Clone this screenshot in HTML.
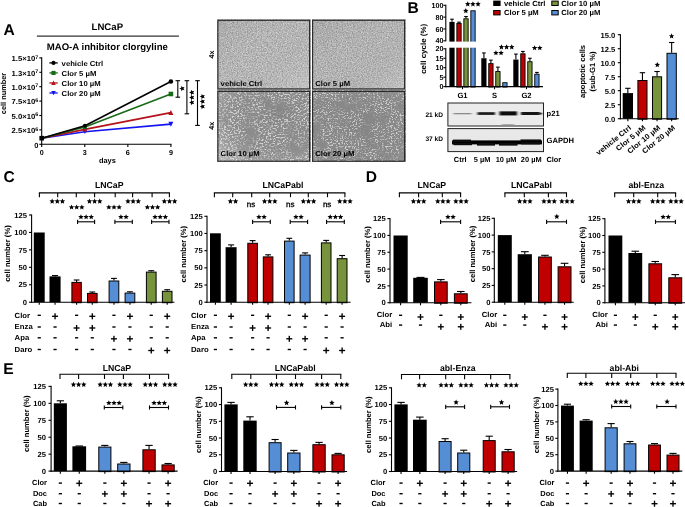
<!DOCTYPE html>
<html><head><meta charset="utf-8"><title>Figure</title>
<style>html,body{margin:0;padding:0;background:#fff;}body{width:685px;height:507px;overflow:hidden;font-family:"Liberation Sans",sans-serif;}svg{display:block;will-change:transform;}</style></head>
<body>
<svg width="685" height="507" viewBox="0 0 685 507" font-family="Liberation Sans, sans-serif" text-rendering="geometricPrecision">
<defs>
<filter id="nz1" x="0" y="0" width="100%" height="100%" color-interpolation-filters="sRGB"><feTurbulence type="fractalNoise" baseFrequency="0.8" numOctaves="2" seed="3"/><feColorMatrix type="matrix" values="0.42 0 0 0 0.50  0.42 0 0 0 0.50  0.42 0 0 0 0.50  0 0 0 0 1"/></filter>
<filter id="nz2" x="0" y="0" width="100%" height="100%" color-interpolation-filters="sRGB"><feTurbulence type="fractalNoise" baseFrequency="0.8" numOctaves="2" seed="8"/><feColorMatrix type="matrix" values="0.4 0 0 0 0.50  0.4 0 0 0 0.50  0.4 0 0 0 0.50  0 0 0 0 1"/></filter>
<filter id="nz3" x="0" y="0" width="100%" height="100%" color-interpolation-filters="sRGB"><feTurbulence type="fractalNoise" baseFrequency="0.53 0.67" numOctaves="2" seed="5" result="n"/><feColorMatrix in="n" type="matrix" values="0 0 0 0 0.83  0 0 0 0 0.83  0 0 0 0 0.83  6 0 0 0 -2.95" result="sp0"/><feGaussianBlur in="sp0" stdDeviation="0.3" result="sp"/><feTurbulence type="fractalNoise" baseFrequency="0.07" numOctaves="2" seed="2" result="lo"/><feColorMatrix in="lo" type="matrix" values="0 0 0 0 1  0 0 0 0 1  0 0 0 0 1  0 3.2 0 0 -0.75" result="lom"/><feComposite in="sp" in2="lom" operator="in" result="sp2"/><feFlood flood-color="#8b8b8b" result="bg"/><feComposite in="sp2" in2="bg" operator="over"/></filter>
<filter id="nz4" x="0" y="0" width="100%" height="100%" color-interpolation-filters="sRGB"><feTurbulence type="fractalNoise" baseFrequency="0.57 0.71" numOctaves="2" seed="11" result="n"/><feColorMatrix in="n" type="matrix" values="0 0 0 0 0.82  0 0 0 0 0.82  0 0 0 0 0.82  6 0 0 0 -3.1" result="sp0"/><feGaussianBlur in="sp0" stdDeviation="0.3" result="sp"/><feTurbulence type="fractalNoise" baseFrequency="0.08" numOctaves="2" seed="9" result="lo"/><feColorMatrix in="lo" type="matrix" values="0 0 0 0 1  0 0 0 0 1  0 0 0 0 1  0 3.2 0 0 -0.8" result="lom"/><feComposite in="sp" in2="lom" operator="in" result="sp2"/><feFlood flood-color="#888888" result="bg"/><feComposite in="sp2" in2="bg" operator="over"/></filter>
<linearGradient id="g1" x1="0" y1="0" x2="1" y2="1"><stop offset="0" stop-color="#000" stop-opacity="0.06"/><stop offset="0.5" stop-color="#888" stop-opacity="0"/><stop offset="1" stop-color="#fff" stop-opacity="0.22"/></linearGradient>
<linearGradient id="g2" x1="0" y1="0" x2="1" y2="1"><stop offset="0" stop-color="#000" stop-opacity="0.05"/><stop offset="0.55" stop-color="#888" stop-opacity="0"/><stop offset="1" stop-color="#fff" stop-opacity="0.25"/></linearGradient>
<radialGradient id="g3" cx="0.66" cy="0.36" r="0.8"><stop offset="0" stop-color="#000" stop-opacity="0.05"/><stop offset="0.5" stop-color="#888" stop-opacity="0"/><stop offset="1" stop-color="#fff" stop-opacity="0.3"/></radialGradient>
<radialGradient id="g4" cx="0.5" cy="0.5" r="0.75"><stop offset="0" stop-color="#000" stop-opacity="0.03"/><stop offset="0.6" stop-color="#888" stop-opacity="0"/><stop offset="1" stop-color="#fff" stop-opacity="0.1"/></radialGradient>
<filter id="bl1" x="-20%" y="-100%" width="140%" height="300%"><feGaussianBlur stdDeviation="0.9 0.55"/></filter>
<filter id="bl2" x="-20%" y="-100%" width="140%" height="300%"><feGaussianBlur stdDeviation="0.7 0.5"/></filter>
</defs>
<rect x="0.00" y="0.00" width="685.00" height="507.00" fill="#fff"/>
<text transform="translate(3.60 34.60)" font-size="15.6" font-weight="bold" text-anchor="start" fill="#000">A</text>
<text transform="translate(107.30 30.00)" font-size="9.6" font-weight="bold" text-anchor="middle" fill="#000">LNCaP</text>
<line x1="36.90" y1="36.10" x2="178.90" y2="36.10" stroke="#000" stroke-width="1.0" stroke-linecap="butt"/>
<text transform="translate(107.30 50.00)" font-size="9.6" font-weight="bold" text-anchor="middle" fill="#000">MAO-A inhibitor clorgyline</text>
<polyline points="41.7,138.2 84.9,131.8 170.9,124.1" fill="none" stroke="#1414f0" stroke-width="1.6" stroke-linejoin="round"/>
<polyline points="41.7,138.2 84.9,129.4 170.9,112.6" fill="none" stroke="#b5121b" stroke-width="1.6" stroke-linejoin="round"/>
<polyline points="41.7,138.2 84.9,127.0 170.9,94.0" fill="none" stroke="#176b17" stroke-width="1.6" stroke-linejoin="round"/>
<polyline points="41.7,138.2 84.9,125.8 170.9,81.5" fill="none" stroke="#000" stroke-width="1.6" stroke-linejoin="round"/>
<polygon points="84.90,134.10 87.10,129.80 82.70,129.80" fill="#1414f0"/>
<polygon points="170.90,126.70 173.40,121.80 168.40,121.80" fill="#1414f0"/>
<polygon points="84.90,127.10 87.10,131.40 82.70,131.40" fill="#b5121b"/>
<polygon points="170.90,110.00 173.40,114.90 168.40,114.90" fill="#b5121b"/>
<rect x="82.90" y="125.00" width="4.00" height="4.00" fill="#176b17"/>
<rect x="168.60" y="91.70" width="4.60" height="4.60" fill="#176b17"/>
<circle cx="84.90" cy="125.80" r="2.00" fill="#000"/>
<circle cx="170.90" cy="81.50" r="2.30" fill="#000"/>
<rect x="39.40" y="135.90" width="4.60" height="4.60" fill="#000"/>
<line x1="41.70" y1="57.30" x2="41.70" y2="144.85" stroke="#000" stroke-width="1.1" stroke-linecap="butt"/>
<line x1="41.15" y1="144.30" x2="171.50" y2="144.30" stroke="#000" stroke-width="1.1" stroke-linecap="butt"/>
<line x1="39.30" y1="144.30" x2="41.70" y2="144.30" stroke="#000" stroke-width="1.1" stroke-linecap="butt"/>
<text transform="translate(38.30 147.60)" font-size="7.4" font-weight="bold" text-anchor="end" fill="#000">0</text>
<line x1="39.30" y1="129.90" x2="41.70" y2="129.90" stroke="#000" stroke-width="1.1" stroke-linecap="butt"/>
<text transform="translate(38.30 133.20) scale(1.04 1)" font-size="7.4" font-weight="bold" text-anchor="end" fill="#000">2.5×10<tspan font-size="5.2" dy="-2.7">6</tspan></text>
<line x1="39.30" y1="115.50" x2="41.70" y2="115.50" stroke="#000" stroke-width="1.1" stroke-linecap="butt"/>
<text transform="translate(38.30 118.80) scale(1.04 1)" font-size="7.4" font-weight="bold" text-anchor="end" fill="#000">5.0×10<tspan font-size="5.2" dy="-2.7">6</tspan></text>
<line x1="39.30" y1="101.10" x2="41.70" y2="101.10" stroke="#000" stroke-width="1.1" stroke-linecap="butt"/>
<text transform="translate(38.30 104.40) scale(1.04 1)" font-size="7.4" font-weight="bold" text-anchor="end" fill="#000">7.5×10<tspan font-size="5.2" dy="-2.7">6</tspan></text>
<line x1="39.30" y1="86.70" x2="41.70" y2="86.70" stroke="#000" stroke-width="1.1" stroke-linecap="butt"/>
<text transform="translate(38.30 90.00) scale(1.04 1)" font-size="7.4" font-weight="bold" text-anchor="end" fill="#000">1.0×10<tspan font-size="5.2" dy="-2.7">7</tspan></text>
<line x1="39.30" y1="72.30" x2="41.70" y2="72.30" stroke="#000" stroke-width="1.1" stroke-linecap="butt"/>
<text transform="translate(38.30 75.60) scale(1.04 1)" font-size="7.4" font-weight="bold" text-anchor="end" fill="#000">1.3×10<tspan font-size="5.2" dy="-2.7">7</tspan></text>
<line x1="39.30" y1="57.90" x2="41.70" y2="57.90" stroke="#000" stroke-width="1.1" stroke-linecap="butt"/>
<text transform="translate(38.30 61.20) scale(1.04 1)" font-size="7.4" font-weight="bold" text-anchor="end" fill="#000">1.5×10<tspan font-size="5.2" dy="-2.7">7</tspan></text>
<line x1="41.70" y1="144.30" x2="41.70" y2="146.90" stroke="#000" stroke-width="1.1" stroke-linecap="butt"/>
<text transform="translate(41.70 155.20)" font-size="7.2" font-weight="bold" text-anchor="middle" fill="#000">0</text>
<line x1="84.77" y1="144.30" x2="84.77" y2="146.90" stroke="#000" stroke-width="1.1" stroke-linecap="butt"/>
<text transform="translate(84.77 155.20)" font-size="7.2" font-weight="bold" text-anchor="middle" fill="#000">3</text>
<line x1="127.84" y1="144.30" x2="127.84" y2="146.90" stroke="#000" stroke-width="1.1" stroke-linecap="butt"/>
<text transform="translate(127.84 155.20)" font-size="7.2" font-weight="bold" text-anchor="middle" fill="#000">6</text>
<line x1="170.91" y1="144.30" x2="170.91" y2="146.90" stroke="#000" stroke-width="1.1" stroke-linecap="butt"/>
<text transform="translate(170.91 155.20)" font-size="7.2" font-weight="bold" text-anchor="middle" fill="#000">9</text>
<text transform="translate(107.40 163.20)" font-size="7.4" font-weight="bold" text-anchor="middle" fill="#000">days</text>
<text transform="translate(5.60 93.50) rotate(-90)" font-size="7.4" font-weight="bold" text-anchor="middle" fill="#000">cell number</text>
<line x1="49.40" y1="62.90" x2="57.70" y2="62.90" stroke="#000" stroke-width="1.3" stroke-linecap="butt"/>
<circle cx="53.50" cy="62.90" r="2.05" fill="#000"/>
<text transform="translate(61.60 65.65) scale(1.07 1)" font-size="7.2" font-weight="bold" text-anchor="start" fill="#000">vehicle Ctrl</text>
<line x1="49.40" y1="72.93" x2="57.70" y2="72.93" stroke="#176b17" stroke-width="1.3" stroke-linecap="butt"/>
<rect x="51.45" y="70.88" width="4.10" height="4.10" fill="#176b17"/>
<text transform="translate(61.60 75.68) scale(1.07 1)" font-size="7.2" font-weight="bold" text-anchor="start" fill="#000">Clor 5 µM</text>
<line x1="49.40" y1="82.96" x2="57.70" y2="82.96" stroke="#b5121b" stroke-width="1.3" stroke-linecap="butt"/>
<polygon points="53.50,80.61 55.75,85.01 51.25,85.01" fill="#b5121b"/>
<text transform="translate(61.60 85.71) scale(1.07 1)" font-size="7.2" font-weight="bold" text-anchor="start" fill="#000">Clor 10 µM</text>
<line x1="49.40" y1="92.99" x2="57.70" y2="92.99" stroke="#1414f0" stroke-width="1.3" stroke-linecap="butt"/>
<polygon points="53.50,95.34 55.75,90.94 51.25,90.94" fill="#1414f0"/>
<text transform="translate(61.60 95.74) scale(1.07 1)" font-size="7.2" font-weight="bold" text-anchor="start" fill="#000">Clor 20 µM</text>
<line x1="177.80" y1="80.70" x2="177.80" y2="97.20" stroke="#000" stroke-width="1.1" stroke-linecap="butt"/>
<line x1="175.50" y1="80.70" x2="180.10" y2="80.70" stroke="#000" stroke-width="1.1" stroke-linecap="butt"/>
<line x1="175.50" y1="97.20" x2="180.10" y2="97.20" stroke="#000" stroke-width="1.1" stroke-linecap="butt"/>
<line x1="186.90" y1="80.70" x2="186.90" y2="113.80" stroke="#000" stroke-width="1.1" stroke-linecap="butt"/>
<line x1="184.60" y1="80.70" x2="189.20" y2="80.70" stroke="#000" stroke-width="1.1" stroke-linecap="butt"/>
<line x1="184.60" y1="113.80" x2="189.20" y2="113.80" stroke="#000" stroke-width="1.1" stroke-linecap="butt"/>
<line x1="197.50" y1="80.70" x2="197.50" y2="125.40" stroke="#000" stroke-width="1.1" stroke-linecap="butt"/>
<line x1="195.20" y1="80.70" x2="199.80" y2="80.70" stroke="#000" stroke-width="1.1" stroke-linecap="butt"/>
<line x1="195.20" y1="125.40" x2="199.80" y2="125.40" stroke="#000" stroke-width="1.1" stroke-linecap="butt"/>
<polygon points="179.35,88.60 181.15,87.84 181.32,85.89 182.60,87.36 184.51,86.92 183.50,88.60 184.51,90.28 182.60,89.84 181.32,91.31 181.15,89.36" fill="#000"/>
<polygon points="189.05,92.50 190.85,91.74 191.02,89.79 192.30,91.26 194.21,90.82 193.20,92.50 194.21,94.18 192.30,93.74 191.02,95.21 190.85,93.26" fill="#000"/>
<polygon points="189.05,97.50 190.85,96.74 191.02,94.79 192.30,96.26 194.21,95.82 193.20,97.50 194.21,99.18 192.30,98.74 191.02,100.21 190.85,98.26" fill="#000"/>
<polygon points="189.05,102.50 190.85,101.74 191.02,99.79 192.30,101.26 194.21,100.82 193.20,102.50 194.21,104.18 192.30,103.74 191.02,105.21 190.85,103.26" fill="#000"/>
<polygon points="199.65,96.60 201.45,95.84 201.62,93.89 202.90,95.36 204.81,94.92 203.80,96.60 204.81,98.28 202.90,97.84 201.62,99.31 201.45,97.36" fill="#000"/>
<polygon points="199.65,101.60 201.45,100.84 201.62,98.89 202.90,100.36 204.81,99.92 203.80,101.60 204.81,103.28 202.90,102.84 201.62,104.31 201.45,102.36" fill="#000"/>
<polygon points="199.65,106.60 201.45,105.84 201.62,103.89 202.90,105.36 204.81,104.92 203.80,106.60 204.81,108.28 202.90,107.84 201.62,109.31 201.45,107.36" fill="#000"/>
<text transform="translate(213.60 54.40) rotate(-90)" font-size="7.2" font-weight="bold" text-anchor="middle" fill="#000">4x</text>
<text transform="translate(213.60 125.80) rotate(-90)" font-size="7.2" font-weight="bold" text-anchor="middle" fill="#000">4x</text>
<rect x="217.40" y="19.80" width="92.70" height="69.60" fill="#aaa" filter="url(#nz1)"/>
<rect x="217.40" y="19.80" width="92.70" height="69.60" fill="url(#g1)"/>
<rect x="217.90" y="20.30" width="91.70" height="68.60" fill="none" stroke="#262626" stroke-width="1.1"/>
<text transform="translate(220.60 86.30) scale(1.07 1)" font-size="7.2" font-weight="bold" text-anchor="start" fill="#000">vehicle Ctrl</text>
<rect x="312.10" y="19.80" width="93.00" height="69.60" fill="#aaa" filter="url(#nz2)"/>
<rect x="312.10" y="19.80" width="93.00" height="69.60" fill="url(#g2)"/>
<rect x="312.60" y="20.30" width="92.00" height="68.60" fill="none" stroke="#262626" stroke-width="1.1"/>
<text transform="translate(315.30 86.30) scale(1.07 1)" font-size="7.2" font-weight="bold" text-anchor="start" fill="#000">Clor 5 µM</text>
<rect x="217.40" y="90.90" width="92.70" height="70.80" fill="#aaa" filter="url(#nz3)"/>
<rect x="217.40" y="90.90" width="92.70" height="70.80" fill="url(#g3)"/>
<rect x="217.90" y="91.40" width="91.70" height="69.80" fill="none" stroke="#262626" stroke-width="1.1"/>
<text transform="translate(220.60 155.70) scale(1.07 1)" font-size="7.2" font-weight="bold" text-anchor="start" fill="#000">Clor 10 µM</text>
<rect x="312.10" y="90.90" width="93.00" height="70.80" fill="#aaa" filter="url(#nz4)"/>
<rect x="312.10" y="90.90" width="93.00" height="70.80" fill="url(#g4)"/>
<rect x="312.60" y="91.40" width="92.00" height="69.80" fill="none" stroke="#262626" stroke-width="1.1"/>
<text transform="translate(315.30 155.70) scale(1.07 1)" font-size="7.2" font-weight="bold" text-anchor="start" fill="#000">Clor 20 µM</text>
<text transform="translate(407.60 13.40)" font-size="15.6" font-weight="bold" text-anchor="start" fill="#000">B</text>
<line x1="452.00" y1="19.20" x2="452.00" y2="21.87" stroke="#000" stroke-width="1.1" stroke-linecap="butt"/>
<line x1="450.20" y1="19.20" x2="453.80" y2="19.20" stroke="#000" stroke-width="1.1" stroke-linecap="butt"/>
<rect x="449.40" y="21.87" width="5.20" height="64.73" fill="#000"/>
<line x1="459.00" y1="22.16" x2="459.00" y2="23.05" stroke="#000" stroke-width="1.1" stroke-linecap="butt"/>
<line x1="457.20" y1="22.16" x2="460.80" y2="22.16" stroke="#000" stroke-width="1.1" stroke-linecap="butt"/>
<rect x="456.85" y="23.50" width="4.30" height="63.55" fill="#c00000" stroke="#000" stroke-width="0.9"/>
<line x1="466.00" y1="16.54" x2="466.00" y2="18.32" stroke="#000" stroke-width="1.1" stroke-linecap="butt"/>
<line x1="464.20" y1="16.54" x2="467.80" y2="16.54" stroke="#000" stroke-width="1.1" stroke-linecap="butt"/>
<rect x="463.85" y="18.77" width="4.30" height="68.28" fill="#77933c" stroke="#000" stroke-width="0.9"/>
<rect x="470.85" y="10.78" width="4.30" height="76.27" fill="#558ed5" stroke="#000" stroke-width="0.9"/>
<line x1="483.90" y1="52.96" x2="483.90" y2="58.25" stroke="#000" stroke-width="1.1" stroke-linecap="butt"/>
<line x1="482.10" y1="52.96" x2="485.70" y2="52.96" stroke="#000" stroke-width="1.1" stroke-linecap="butt"/>
<rect x="481.30" y="58.25" width="5.20" height="28.35" fill="#000"/>
<line x1="490.90" y1="60.14" x2="490.90" y2="63.16" stroke="#000" stroke-width="1.1" stroke-linecap="butt"/>
<line x1="489.10" y1="60.14" x2="492.70" y2="60.14" stroke="#000" stroke-width="1.1" stroke-linecap="butt"/>
<rect x="488.75" y="63.61" width="4.30" height="23.44" fill="#c00000" stroke="#000" stroke-width="0.9"/>
<line x1="497.90" y1="67.13" x2="497.90" y2="71.10" stroke="#000" stroke-width="1.1" stroke-linecap="butt"/>
<line x1="496.10" y1="67.13" x2="499.70" y2="67.13" stroke="#000" stroke-width="1.1" stroke-linecap="butt"/>
<rect x="495.75" y="71.55" width="4.30" height="15.50" fill="#77933c" stroke="#000" stroke-width="0.9"/>
<rect x="502.75" y="82.70" width="4.30" height="4.35" fill="#558ed5" stroke="#000" stroke-width="0.9"/>
<line x1="515.90" y1="54.09" x2="515.90" y2="59.57" stroke="#000" stroke-width="1.1" stroke-linecap="butt"/>
<line x1="514.10" y1="54.09" x2="517.70" y2="54.09" stroke="#000" stroke-width="1.1" stroke-linecap="butt"/>
<rect x="513.30" y="59.57" width="5.20" height="27.03" fill="#000"/>
<line x1="522.90" y1="51.45" x2="522.90" y2="53.34" stroke="#000" stroke-width="1.1" stroke-linecap="butt"/>
<line x1="521.10" y1="51.45" x2="524.70" y2="51.45" stroke="#000" stroke-width="1.1" stroke-linecap="butt"/>
<rect x="520.75" y="53.79" width="4.30" height="33.26" fill="#c00000" stroke="#000" stroke-width="0.9"/>
<line x1="529.90" y1="58.25" x2="529.90" y2="61.27" stroke="#000" stroke-width="1.1" stroke-linecap="butt"/>
<line x1="528.10" y1="58.25" x2="531.70" y2="58.25" stroke="#000" stroke-width="1.1" stroke-linecap="butt"/>
<rect x="527.75" y="61.72" width="4.30" height="25.33" fill="#77933c" stroke="#000" stroke-width="0.9"/>
<line x1="536.90" y1="72.42" x2="536.90" y2="73.75" stroke="#000" stroke-width="1.1" stroke-linecap="butt"/>
<line x1="535.10" y1="72.42" x2="538.70" y2="72.42" stroke="#000" stroke-width="1.1" stroke-linecap="butt"/>
<rect x="534.75" y="74.20" width="4.30" height="12.85" fill="#558ed5" stroke="#000" stroke-width="0.9"/>
<rect x="440.00" y="41.60" width="40.00" height="6.10" fill="#fff"/>
<line x1="445.80" y1="4.80" x2="445.80" y2="41.30" stroke="#000" stroke-width="1.1" stroke-linecap="butt"/>
<line x1="445.80" y1="48.30" x2="445.80" y2="87.15" stroke="#000" stroke-width="1.1" stroke-linecap="butt"/>
<line x1="445.25" y1="86.60" x2="543.00" y2="86.60" stroke="#000" stroke-width="1.1" stroke-linecap="butt"/>
<line x1="443.40" y1="5.30" x2="445.80" y2="5.30" stroke="#000" stroke-width="1.1" stroke-linecap="butt"/>
<text transform="translate(443.50 7.90)" font-size="7.2" font-weight="bold" text-anchor="end" fill="#000">100</text>
<line x1="443.40" y1="17.13" x2="445.80" y2="17.13" stroke="#000" stroke-width="1.1" stroke-linecap="butt"/>
<text transform="translate(443.50 19.73)" font-size="7.2" font-weight="bold" text-anchor="end" fill="#000">80</text>
<line x1="443.40" y1="28.97" x2="445.80" y2="28.97" stroke="#000" stroke-width="1.1" stroke-linecap="butt"/>
<text transform="translate(443.50 31.57)" font-size="7.2" font-weight="bold" text-anchor="end" fill="#000">60</text>
<line x1="443.40" y1="40.80" x2="445.80" y2="40.80" stroke="#000" stroke-width="1.1" stroke-linecap="butt"/>
<text transform="translate(443.50 43.40)" font-size="7.2" font-weight="bold" text-anchor="end" fill="#000">40</text>
<line x1="443.40" y1="48.80" x2="445.80" y2="48.80" stroke="#000" stroke-width="1.1" stroke-linecap="butt"/>
<text transform="translate(443.50 51.40)" font-size="7.2" font-weight="bold" text-anchor="end" fill="#000">20</text>
<line x1="443.40" y1="58.25" x2="445.80" y2="58.25" stroke="#000" stroke-width="1.1" stroke-linecap="butt"/>
<text transform="translate(443.50 60.85)" font-size="7.2" font-weight="bold" text-anchor="end" fill="#000">15</text>
<line x1="443.40" y1="67.70" x2="445.80" y2="67.70" stroke="#000" stroke-width="1.1" stroke-linecap="butt"/>
<text transform="translate(443.50 70.30)" font-size="7.2" font-weight="bold" text-anchor="end" fill="#000">10</text>
<line x1="443.40" y1="77.15" x2="445.80" y2="77.15" stroke="#000" stroke-width="1.1" stroke-linecap="butt"/>
<text transform="translate(443.50 79.75)" font-size="7.2" font-weight="bold" text-anchor="end" fill="#000">5</text>
<line x1="443.40" y1="86.60" x2="445.80" y2="86.60" stroke="#000" stroke-width="1.1" stroke-linecap="butt"/>
<text transform="translate(443.50 89.20)" font-size="7.2" font-weight="bold" text-anchor="end" fill="#000">0</text>
<line x1="462.50" y1="86.60" x2="462.50" y2="89.20" stroke="#000" stroke-width="1.1" stroke-linecap="butt"/>
<text transform="translate(462.50 97.60)" font-size="7.6" font-weight="bold" text-anchor="middle" fill="#000">G1</text>
<line x1="494.50" y1="86.60" x2="494.50" y2="89.20" stroke="#000" stroke-width="1.1" stroke-linecap="butt"/>
<text transform="translate(494.50 97.60)" font-size="7.6" font-weight="bold" text-anchor="middle" fill="#000">S</text>
<line x1="526.50" y1="86.60" x2="526.50" y2="89.20" stroke="#000" stroke-width="1.1" stroke-linecap="butt"/>
<text transform="translate(526.50 97.60)" font-size="7.6" font-weight="bold" text-anchor="middle" fill="#000">G2</text>
<text transform="translate(426.30 48.80) rotate(-90) scale(1.05 1)" font-size="7.6" font-weight="bold" text-anchor="middle" fill="#000">cell cycle (%)</text>
<polygon points="465.80,8.05 466.56,9.85 468.51,10.02 467.04,11.30 467.48,13.21 465.80,12.20 464.12,13.21 464.56,11.30 463.09,10.02 465.04,9.85" fill="#000"/>
<polygon points="467.75,1.25 468.51,3.05 470.46,3.22 468.99,4.50 469.43,6.41 467.75,5.40 466.07,6.41 466.51,4.50 465.04,3.22 466.99,3.05" fill="#000"/>
<polygon points="472.90,1.25 473.66,3.05 475.61,3.22 474.14,4.50 474.58,6.41 472.90,5.40 471.22,6.41 471.66,4.50 470.19,3.22 472.14,3.05" fill="#000"/>
<polygon points="478.05,1.25 478.81,3.05 480.76,3.22 479.29,4.50 479.73,6.41 478.05,5.40 476.37,6.41 476.81,4.50 475.34,3.22 477.29,3.05" fill="#000"/>
<polygon points="495.93,50.15 496.69,51.95 498.64,52.12 497.16,53.40 497.60,55.31 495.93,54.30 494.25,55.31 494.69,53.40 493.21,52.12 495.16,51.95" fill="#000"/>
<polygon points="501.07,50.15 501.84,51.95 503.79,52.12 502.31,53.40 502.75,55.31 501.07,54.30 499.40,55.31 499.84,53.40 498.36,52.12 500.31,51.95" fill="#000"/>
<polygon points="501.45,44.25 502.21,46.05 504.16,46.22 502.69,47.50 503.13,49.41 501.45,48.40 499.77,49.41 500.21,47.50 498.74,46.22 500.69,46.05" fill="#000"/>
<polygon points="506.60,44.25 507.36,46.05 509.31,46.22 507.84,47.50 508.28,49.41 506.60,48.40 504.92,49.41 505.36,47.50 503.89,46.22 505.84,46.05" fill="#000"/>
<polygon points="511.75,44.25 512.51,46.05 514.46,46.22 512.99,47.50 513.43,49.41 511.75,48.40 510.07,49.41 510.51,47.50 509.04,46.22 510.99,46.05" fill="#000"/>
<polygon points="534.62,45.15 535.39,46.95 537.34,47.12 535.86,48.40 536.30,50.31 534.62,49.30 532.95,50.31 533.39,48.40 531.91,47.12 533.86,46.95" fill="#000"/>
<polygon points="539.78,45.15 540.54,46.95 542.49,47.12 541.01,48.40 541.45,50.31 539.78,49.30 538.10,50.31 538.54,48.40 537.06,47.12 539.01,46.95" fill="#000"/>
<rect x="493.20" y="0.60" width="7.40" height="5.40" fill="#000"/>
<text transform="translate(504.00 5.90) scale(1.04 1)" font-size="7.4" font-weight="bold" text-anchor="start" fill="#000">vehicle Ctrl</text>
<rect x="493.70" y="10.50" width="6.40" height="4.40" fill="#c00000" stroke="#000" stroke-width="1.0"/>
<text transform="translate(504.00 15.30) scale(1.04 1)" font-size="7.4" font-weight="bold" text-anchor="start" fill="#000">Clor 5 µM</text>
<rect x="551.80" y="1.10" width="6.40" height="4.40" fill="#77933c" stroke="#000" stroke-width="1.0"/>
<text transform="translate(561.30 5.90) scale(1.04 1)" font-size="7.4" font-weight="bold" text-anchor="start" fill="#000">Clor 10 µM</text>
<rect x="551.80" y="10.50" width="6.40" height="4.40" fill="#558ed5" stroke="#000" stroke-width="1.0"/>
<text transform="translate(561.30 15.30) scale(1.04 1)" font-size="7.4" font-weight="bold" text-anchor="start" fill="#000">Clor 20 µM</text>
<rect x="447.90" y="103.00" width="95.60" height="23.00" fill="#ebebeb" stroke="#222" stroke-width="1.0"/>
<rect x="447.90" y="128.60" width="95.60" height="23.00" fill="#e8e8e8" stroke="#222" stroke-width="1.0"/>
<g filter="url(#bl1)">
<rect x="453.50" y="113.00" width="18.00" height="1.30" fill="#8a8a8a"/>
<rect x="477.50" y="112.20" width="17.50" height="2.70" fill="#1c1c1c"/>
<rect x="499.50" y="111.40" width="17.50" height="4.00" fill="#080808"/>
<rect x="521.00" y="112.00" width="19.00" height="3.00" fill="#151515"/>
<rect x="538.00" y="112.80" width="4.50" height="1.60" fill="#333"/>
<rect x="502.00" y="124.20" width="12.00" height="0.90" fill="#9a9a9a"/>
</g>
<g filter="url(#bl2)">
<rect x="452.00" y="140.40" width="90.00" height="4.00" fill="#050505"/>
<rect x="453.50" y="143.20" width="18.50" height="2.00" fill="#0a0a0a"/>
<rect x="477.00" y="143.60" width="18.00" height="2.00" fill="#0a0a0a"/>
<rect x="499.00" y="143.60" width="18.50" height="2.00" fill="#0a0a0a"/>
<rect x="521.00" y="142.60" width="19.00" height="1.80" fill="#0a0a0a"/>
<rect x="453.00" y="139.60" width="18.00" height="1.60" fill="#111"/>
<rect x="520.50" y="139.40" width="20.50" height="1.60" fill="#111"/>
</g>
<text transform="translate(443.00 117.00)" font-size="6.6" font-weight="bold" text-anchor="end" fill="#000">21 kD</text>
<text transform="translate(443.00 141.30)" font-size="6.6" font-weight="bold" text-anchor="end" fill="#000">37 kD</text>
<text transform="translate(546.60 116.30)" font-size="7.6" font-weight="bold" text-anchor="start" fill="#000">p21</text>
<text transform="translate(546.60 143.10)" font-size="7.6" font-weight="bold" text-anchor="start" fill="#000">GAPDH</text>
<text transform="translate(460.20 161.90)" font-size="7.4" font-weight="bold" text-anchor="middle" fill="#000">Ctrl</text>
<text transform="translate(482.10 161.90)" font-size="7.4" font-weight="bold" text-anchor="middle" fill="#000">5 µM</text>
<text transform="translate(506.00 161.90)" font-size="7.4" font-weight="bold" text-anchor="middle" fill="#000">10 µM</text>
<text transform="translate(531.20 161.90)" font-size="7.4" font-weight="bold" text-anchor="middle" fill="#000">20 µM</text>
<text transform="translate(546.40 161.90)" font-size="7.4" font-weight="bold" text-anchor="start" fill="#000">Clor</text>
<line x1="627.85" y1="88.30" x2="627.85" y2="93.10" stroke="#000" stroke-width="1.1" stroke-linecap="butt"/>
<line x1="625.15" y1="88.30" x2="630.55" y2="88.30" stroke="#000" stroke-width="1.1" stroke-linecap="butt"/>
<rect x="622.70" y="93.10" width="10.30" height="25.60" fill="#000"/>
<line x1="627.85" y1="118.70" x2="627.85" y2="121.30" stroke="#000" stroke-width="1.1" stroke-linecap="butt"/>
<line x1="642.45" y1="72.70" x2="642.45" y2="80.00" stroke="#000" stroke-width="1.1" stroke-linecap="butt"/>
<line x1="639.75" y1="72.70" x2="645.15" y2="72.70" stroke="#000" stroke-width="1.1" stroke-linecap="butt"/>
<rect x="637.90" y="80.50" width="9.10" height="38.70" fill="#c00000" stroke="#000" stroke-width="1.0"/>
<line x1="642.45" y1="118.70" x2="642.45" y2="121.30" stroke="#000" stroke-width="1.1" stroke-linecap="butt"/>
<line x1="657.05" y1="71.50" x2="657.05" y2="76.30" stroke="#000" stroke-width="1.1" stroke-linecap="butt"/>
<line x1="654.35" y1="71.50" x2="659.75" y2="71.50" stroke="#000" stroke-width="1.1" stroke-linecap="butt"/>
<rect x="652.50" y="76.80" width="9.10" height="42.40" fill="#77933c" stroke="#000" stroke-width="1.0"/>
<line x1="657.05" y1="118.70" x2="657.05" y2="121.30" stroke="#000" stroke-width="1.1" stroke-linecap="butt"/>
<line x1="671.65" y1="42.50" x2="671.65" y2="52.80" stroke="#000" stroke-width="1.1" stroke-linecap="butt"/>
<line x1="668.95" y1="42.50" x2="674.35" y2="42.50" stroke="#000" stroke-width="1.1" stroke-linecap="butt"/>
<rect x="667.00" y="53.30" width="9.30" height="65.90" fill="#558ed5" stroke="#000" stroke-width="1.0"/>
<line x1="671.65" y1="118.70" x2="671.65" y2="121.30" stroke="#000" stroke-width="1.1" stroke-linecap="butt"/>
<line x1="620.40" y1="34.15" x2="620.40" y2="119.25" stroke="#000" stroke-width="1.1" stroke-linecap="butt"/>
<line x1="619.85" y1="118.70" x2="678.80" y2="118.70" stroke="#000" stroke-width="1.1" stroke-linecap="butt"/>
<line x1="617.80" y1="118.70" x2="620.40" y2="118.70" stroke="#000" stroke-width="1.1" stroke-linecap="butt"/>
<text transform="translate(615.30 121.70) scale(1.03 1)" font-size="7.4" font-weight="bold" text-anchor="end" fill="#000">0.0</text>
<line x1="617.80" y1="104.70" x2="620.40" y2="104.70" stroke="#000" stroke-width="1.1" stroke-linecap="butt"/>
<text transform="translate(615.30 107.70) scale(1.03 1)" font-size="7.4" font-weight="bold" text-anchor="end" fill="#000">2.5</text>
<line x1="617.80" y1="90.70" x2="620.40" y2="90.70" stroke="#000" stroke-width="1.1" stroke-linecap="butt"/>
<text transform="translate(615.30 93.70) scale(1.03 1)" font-size="7.4" font-weight="bold" text-anchor="end" fill="#000">5.0</text>
<line x1="617.80" y1="76.70" x2="620.40" y2="76.70" stroke="#000" stroke-width="1.1" stroke-linecap="butt"/>
<text transform="translate(615.30 79.70) scale(1.03 1)" font-size="7.4" font-weight="bold" text-anchor="end" fill="#000">7.5</text>
<line x1="617.80" y1="62.70" x2="620.40" y2="62.70" stroke="#000" stroke-width="1.1" stroke-linecap="butt"/>
<text transform="translate(615.30 65.70) scale(1.03 1)" font-size="7.4" font-weight="bold" text-anchor="end" fill="#000">10.0</text>
<line x1="617.80" y1="48.70" x2="620.40" y2="48.70" stroke="#000" stroke-width="1.1" stroke-linecap="butt"/>
<text transform="translate(615.30 51.70) scale(1.03 1)" font-size="7.4" font-weight="bold" text-anchor="end" fill="#000">12.5</text>
<line x1="617.80" y1="34.70" x2="620.40" y2="34.70" stroke="#000" stroke-width="1.1" stroke-linecap="butt"/>
<text transform="translate(615.30 37.70) scale(1.03 1)" font-size="7.4" font-weight="bold" text-anchor="end" fill="#000">15.0</text>
<text transform="translate(585.40 71.50) rotate(-90)" font-size="7.6" font-weight="bold" text-anchor="middle" fill="#000">apoptotic cells</text>
<text transform="translate(595.20 71.50) rotate(-90)" font-size="7.6" font-weight="bold" text-anchor="middle" fill="#000">(sub-G1 %)</text>
<polygon points="657.30,62.05 658.06,63.85 660.01,64.02 658.54,65.30 658.98,67.21 657.30,66.20 655.62,67.21 656.06,65.30 654.59,64.02 656.54,63.85" fill="#000"/>
<polygon points="671.60,33.35 672.36,35.15 674.31,35.32 672.84,36.60 673.28,38.51 671.60,37.50 669.92,38.51 670.36,36.60 668.89,35.32 670.84,35.15" fill="#000"/>
<text transform="translate(631.60 128.70) rotate(-39) scale(1.08 1)" font-size="7.3" font-weight="bold" text-anchor="end" fill="#000">vehicle Ctrl</text>
<text transform="translate(646.00 128.70) rotate(-39) scale(1.08 1)" font-size="7.3" font-weight="bold" text-anchor="end" fill="#000">Clor 5 µM</text>
<text transform="translate(660.80 128.70) rotate(-39) scale(1.08 1)" font-size="7.3" font-weight="bold" text-anchor="end" fill="#000">Clor 10 µM</text>
<text transform="translate(675.60 128.70) rotate(-39) scale(1.08 1)" font-size="7.3" font-weight="bold" text-anchor="end" fill="#000">Clor 20 µM</text>
<text transform="translate(3.40 182.30)" font-size="15.6" font-weight="bold" text-anchor="start" fill="#000">C</text>
<text transform="translate(109.20 188.10)" font-size="8.7" font-weight="bold" text-anchor="middle" fill="#000">LNCaP</text>
<line x1="38.85" y1="192.90" x2="169.95" y2="192.90" stroke="#000" stroke-width="1.1" stroke-linecap="butt"/>
<line x1="39.40" y1="192.90" x2="39.40" y2="197.20" stroke="#000" stroke-width="1.1" stroke-linecap="butt"/>
<line x1="57.70" y1="192.90" x2="57.70" y2="197.20" stroke="#000" stroke-width="1.1" stroke-linecap="butt"/>
<line x1="76.30" y1="192.90" x2="76.30" y2="197.20" stroke="#000" stroke-width="1.1" stroke-linecap="butt"/>
<line x1="94.60" y1="192.90" x2="94.60" y2="197.20" stroke="#000" stroke-width="1.1" stroke-linecap="butt"/>
<line x1="115.20" y1="192.90" x2="115.20" y2="197.20" stroke="#000" stroke-width="1.1" stroke-linecap="butt"/>
<line x1="132.60" y1="192.90" x2="132.60" y2="197.20" stroke="#000" stroke-width="1.1" stroke-linecap="butt"/>
<line x1="152.10" y1="192.90" x2="152.10" y2="197.20" stroke="#000" stroke-width="1.1" stroke-linecap="butt"/>
<line x1="169.40" y1="192.90" x2="169.40" y2="197.20" stroke="#000" stroke-width="1.1" stroke-linecap="butt"/>
<polygon points="52.15,198.55 52.91,200.35 54.86,200.52 53.39,201.80 53.83,203.71 52.15,202.70 50.47,203.71 50.91,201.80 49.44,200.52 51.39,200.35" fill="#000"/>
<polygon points="57.30,198.55 58.06,200.35 60.01,200.52 58.54,201.80 58.98,203.71 57.30,202.70 55.62,203.71 56.06,201.80 54.59,200.52 56.54,200.35" fill="#000"/>
<polygon points="62.45,198.55 63.21,200.35 65.16,200.52 63.69,201.80 64.13,203.71 62.45,202.70 60.77,203.71 61.21,201.80 59.74,200.52 61.69,200.35" fill="#000"/>
<polygon points="89.45,198.55 90.21,200.35 92.16,200.52 90.69,201.80 91.13,203.71 89.45,202.70 87.77,203.71 88.21,201.80 86.74,200.52 88.69,200.35" fill="#000"/>
<polygon points="94.60,198.55 95.36,200.35 97.31,200.52 95.84,201.80 96.28,203.71 94.60,202.70 92.92,203.71 93.36,201.80 91.89,200.52 93.84,200.35" fill="#000"/>
<polygon points="99.75,198.55 100.51,200.35 102.46,200.52 100.99,201.80 101.43,203.71 99.75,202.70 98.07,203.71 98.51,201.80 97.04,200.52 98.99,200.35" fill="#000"/>
<polygon points="127.95,198.55 128.71,200.35 130.66,200.52 129.19,201.80 129.63,203.71 127.95,202.70 126.27,203.71 126.71,201.80 125.24,200.52 127.19,200.35" fill="#000"/>
<polygon points="133.10,198.55 133.86,200.35 135.81,200.52 134.34,201.80 134.78,203.71 133.10,202.70 131.42,203.71 131.86,201.80 130.39,200.52 132.34,200.35" fill="#000"/>
<polygon points="138.25,198.55 139.01,200.35 140.96,200.52 139.49,201.80 139.93,203.71 138.25,202.70 136.57,203.71 137.01,201.80 135.54,200.52 137.49,200.35" fill="#000"/>
<polygon points="164.35,198.55 165.11,200.35 167.06,200.52 165.59,201.80 166.03,203.71 164.35,202.70 162.67,203.71 163.11,201.80 161.64,200.52 163.59,200.35" fill="#000"/>
<polygon points="169.50,198.55 170.26,200.35 172.21,200.52 170.74,201.80 171.18,203.71 169.50,202.70 167.82,203.71 168.26,201.80 166.79,200.52 168.74,200.35" fill="#000"/>
<polygon points="174.65,198.55 175.41,200.35 177.36,200.52 175.89,201.80 176.33,203.71 174.65,202.70 172.97,203.71 173.41,201.80 171.94,200.52 173.89,200.35" fill="#000"/>
<polygon points="71.55,204.45 72.31,206.25 74.26,206.42 72.79,207.70 73.23,209.61 71.55,208.60 69.87,209.61 70.31,207.70 68.84,206.42 70.79,206.25" fill="#000"/>
<polygon points="76.70,204.45 77.46,206.25 79.41,206.42 77.94,207.70 78.38,209.61 76.70,208.60 75.02,209.61 75.46,207.70 73.99,206.42 75.94,206.25" fill="#000"/>
<polygon points="81.85,204.45 82.61,206.25 84.56,206.42 83.09,207.70 83.53,209.61 81.85,208.60 80.17,209.61 80.61,207.70 79.14,206.42 81.09,206.25" fill="#000"/>
<polygon points="108.85,204.45 109.61,206.25 111.56,206.42 110.09,207.70 110.53,209.61 108.85,208.60 107.17,209.61 107.61,207.70 106.14,206.42 108.09,206.25" fill="#000"/>
<polygon points="114.00,204.45 114.76,206.25 116.71,206.42 115.24,207.70 115.68,209.61 114.00,208.60 112.32,209.61 112.76,207.70 111.29,206.42 113.24,206.25" fill="#000"/>
<polygon points="119.15,204.45 119.91,206.25 121.86,206.42 120.39,207.70 120.83,209.61 119.15,208.60 117.47,209.61 117.91,207.70 116.44,206.42 118.39,206.25" fill="#000"/>
<polygon points="147.35,204.45 148.11,206.25 150.06,206.42 148.59,207.70 149.03,209.61 147.35,208.60 145.67,209.61 146.11,207.70 144.64,206.42 146.59,206.25" fill="#000"/>
<polygon points="152.50,204.45 153.26,206.25 155.21,206.42 153.74,207.70 154.18,209.61 152.50,208.60 150.82,209.61 151.26,207.70 149.79,206.42 151.74,206.25" fill="#000"/>
<polygon points="157.65,204.45 158.41,206.25 160.36,206.42 158.89,207.70 159.33,209.61 157.65,208.60 155.97,209.61 156.41,207.70 154.94,206.42 156.89,206.25" fill="#000"/>
<line x1="77.60" y1="221.80" x2="94.60" y2="221.80" stroke="#000" stroke-width="1.1" stroke-linecap="butt"/>
<line x1="77.60" y1="219.70" x2="77.60" y2="223.90" stroke="#000" stroke-width="1.1" stroke-linecap="butt"/>
<line x1="94.60" y1="219.70" x2="94.60" y2="223.90" stroke="#000" stroke-width="1.1" stroke-linecap="butt"/>
<polygon points="80.95,214.15 81.71,215.95 83.66,216.12 82.19,217.40 82.63,219.31 80.95,218.30 79.27,219.31 79.71,217.40 78.24,216.12 80.19,215.95" fill="#000"/>
<polygon points="86.10,214.15 86.86,215.95 88.81,216.12 87.34,217.40 87.78,219.31 86.10,218.30 84.42,219.31 84.86,217.40 83.39,216.12 85.34,215.95" fill="#000"/>
<polygon points="91.25,214.15 92.01,215.95 93.96,216.12 92.49,217.40 92.93,219.31 91.25,218.30 89.57,219.31 90.01,217.40 88.54,216.12 90.49,215.95" fill="#000"/>
<line x1="114.90" y1="221.80" x2="132.30" y2="221.80" stroke="#000" stroke-width="1.1" stroke-linecap="butt"/>
<line x1="114.90" y1="219.70" x2="114.90" y2="223.90" stroke="#000" stroke-width="1.1" stroke-linecap="butt"/>
<line x1="132.30" y1="219.70" x2="132.30" y2="223.90" stroke="#000" stroke-width="1.1" stroke-linecap="butt"/>
<polygon points="120.92,214.15 121.69,215.95 123.64,216.12 122.16,217.40 122.60,219.31 120.92,218.30 119.25,219.31 119.69,217.40 118.21,216.12 120.16,215.95" fill="#000"/>
<polygon points="126.08,214.15 126.84,215.95 128.79,216.12 127.31,217.40 127.75,219.31 126.08,218.30 124.40,219.31 124.84,217.40 123.36,216.12 125.31,215.95" fill="#000"/>
<line x1="151.60" y1="221.80" x2="169.00" y2="221.80" stroke="#000" stroke-width="1.1" stroke-linecap="butt"/>
<line x1="151.60" y1="219.70" x2="151.60" y2="223.90" stroke="#000" stroke-width="1.1" stroke-linecap="butt"/>
<line x1="169.00" y1="219.70" x2="169.00" y2="223.90" stroke="#000" stroke-width="1.1" stroke-linecap="butt"/>
<polygon points="155.05,214.15 155.81,215.95 157.76,216.12 156.29,217.40 156.73,219.31 155.05,218.30 153.37,219.31 153.81,217.40 152.34,216.12 154.29,215.95" fill="#000"/>
<polygon points="160.20,214.15 160.96,215.95 162.91,216.12 161.44,217.40 161.88,219.31 160.20,218.30 158.52,219.31 158.96,217.40 157.49,216.12 159.44,215.95" fill="#000"/>
<polygon points="165.35,214.15 166.11,215.95 168.06,216.12 166.59,217.40 167.03,219.31 165.35,218.30 163.67,219.31 164.11,217.40 162.64,216.12 164.59,215.95" fill="#000"/>
<rect x="33.80" y="232.50" width="10.90" height="69.70" fill="#000"/>
<line x1="55.05" y1="275.60" x2="55.05" y2="276.40" stroke="#000" stroke-width="1.1" stroke-linecap="butt"/>
<line x1="52.00" y1="275.60" x2="58.10" y2="275.60" stroke="#000" stroke-width="1.1" stroke-linecap="butt"/>
<rect x="49.50" y="276.40" width="11.10" height="25.80" fill="#000"/>
<line x1="76.60" y1="280.00" x2="76.60" y2="281.90" stroke="#000" stroke-width="1.1" stroke-linecap="butt"/>
<line x1="73.74" y1="280.00" x2="79.46" y2="280.00" stroke="#000" stroke-width="1.1" stroke-linecap="butt"/>
<rect x="71.90" y="282.40" width="9.40" height="20.30" fill="#c00000" stroke="#000" stroke-width="1.0"/>
<line x1="92.30" y1="292.00" x2="92.30" y2="292.90" stroke="#000" stroke-width="1.1" stroke-linecap="butt"/>
<line x1="89.39" y1="292.00" x2="95.21" y2="292.00" stroke="#000" stroke-width="1.1" stroke-linecap="butt"/>
<rect x="87.50" y="293.40" width="9.60" height="9.30" fill="#c00000" stroke="#000" stroke-width="1.0"/>
<line x1="113.95" y1="278.40" x2="113.95" y2="280.50" stroke="#000" stroke-width="1.1" stroke-linecap="butt"/>
<line x1="111.01" y1="278.40" x2="116.89" y2="278.40" stroke="#000" stroke-width="1.1" stroke-linecap="butt"/>
<rect x="109.10" y="281.00" width="9.70" height="21.70" fill="#558ed5" stroke="#000" stroke-width="1.0"/>
<line x1="129.95" y1="291.80" x2="129.95" y2="292.60" stroke="#000" stroke-width="1.1" stroke-linecap="butt"/>
<line x1="127.01" y1="291.80" x2="132.89" y2="291.80" stroke="#000" stroke-width="1.1" stroke-linecap="butt"/>
<rect x="125.10" y="293.10" width="9.70" height="9.60" fill="#558ed5" stroke="#000" stroke-width="1.0"/>
<line x1="151.25" y1="270.70" x2="151.25" y2="271.60" stroke="#000" stroke-width="1.1" stroke-linecap="butt"/>
<line x1="148.31" y1="270.70" x2="154.19" y2="270.70" stroke="#000" stroke-width="1.1" stroke-linecap="butt"/>
<rect x="146.40" y="272.10" width="9.70" height="30.60" fill="#77933c" stroke="#000" stroke-width="1.0"/>
<line x1="167.20" y1="289.70" x2="167.20" y2="290.80" stroke="#000" stroke-width="1.1" stroke-linecap="butt"/>
<line x1="164.28" y1="289.70" x2="170.11" y2="289.70" stroke="#000" stroke-width="1.1" stroke-linecap="butt"/>
<rect x="162.40" y="291.30" width="9.60" height="11.40" fill="#77933c" stroke="#000" stroke-width="1.0"/>
<line x1="31.60" y1="214.45" x2="31.60" y2="302.75" stroke="#000" stroke-width="1.1" stroke-linecap="butt"/>
<line x1="31.05" y1="302.20" x2="174.40" y2="302.20" stroke="#000" stroke-width="1.1" stroke-linecap="butt"/>
<line x1="29.00" y1="302.20" x2="31.60" y2="302.20" stroke="#000" stroke-width="1.1" stroke-linecap="butt"/>
<text transform="translate(27.00 304.85) scale(1.03 1)" font-size="7.4" font-weight="bold" text-anchor="end" fill="#000">0</text>
<line x1="29.00" y1="284.76" x2="31.60" y2="284.76" stroke="#000" stroke-width="1.1" stroke-linecap="butt"/>
<text transform="translate(27.00 287.41) scale(1.03 1)" font-size="7.4" font-weight="bold" text-anchor="end" fill="#000">25</text>
<line x1="29.00" y1="267.32" x2="31.60" y2="267.32" stroke="#000" stroke-width="1.1" stroke-linecap="butt"/>
<text transform="translate(27.00 269.97) scale(1.03 1)" font-size="7.4" font-weight="bold" text-anchor="end" fill="#000">50</text>
<line x1="29.00" y1="249.88" x2="31.60" y2="249.88" stroke="#000" stroke-width="1.1" stroke-linecap="butt"/>
<text transform="translate(27.00 252.53) scale(1.03 1)" font-size="7.4" font-weight="bold" text-anchor="end" fill="#000">75</text>
<line x1="29.00" y1="232.44" x2="31.60" y2="232.44" stroke="#000" stroke-width="1.1" stroke-linecap="butt"/>
<text transform="translate(27.00 235.09) scale(1.03 1)" font-size="7.4" font-weight="bold" text-anchor="end" fill="#000">100</text>
<line x1="29.00" y1="215.00" x2="31.60" y2="215.00" stroke="#000" stroke-width="1.1" stroke-linecap="butt"/>
<text transform="translate(27.00 217.65) scale(1.03 1)" font-size="7.4" font-weight="bold" text-anchor="end" fill="#000">125</text>
<line x1="39.25" y1="302.20" x2="39.25" y2="304.80" stroke="#000" stroke-width="1.1" stroke-linecap="butt"/>
<line x1="55.05" y1="302.20" x2="55.05" y2="304.80" stroke="#000" stroke-width="1.1" stroke-linecap="butt"/>
<line x1="76.60" y1="302.20" x2="76.60" y2="304.80" stroke="#000" stroke-width="1.1" stroke-linecap="butt"/>
<line x1="92.30" y1="302.20" x2="92.30" y2="304.80" stroke="#000" stroke-width="1.1" stroke-linecap="butt"/>
<line x1="113.95" y1="302.20" x2="113.95" y2="304.80" stroke="#000" stroke-width="1.1" stroke-linecap="butt"/>
<line x1="129.95" y1="302.20" x2="129.95" y2="304.80" stroke="#000" stroke-width="1.1" stroke-linecap="butt"/>
<line x1="151.25" y1="302.20" x2="151.25" y2="304.80" stroke="#000" stroke-width="1.1" stroke-linecap="butt"/>
<line x1="167.20" y1="302.20" x2="167.20" y2="304.80" stroke="#000" stroke-width="1.1" stroke-linecap="butt"/>
<text transform="translate(9.90 253.60) rotate(-90)" font-size="7.6" font-weight="bold" text-anchor="middle" fill="#000">cell number (%)</text>
<text transform="translate(14.60 317.60) scale(1.05 1)" font-size="7.4" font-weight="bold" text-anchor="start" fill="#000">Clor</text>
<rect x="37.65" y="314.60" width="3.20" height="1.40" fill="#000"/>
<rect x="52.05" y="315.62" width="6.00" height="1.35" fill="#000"/>
<rect x="54.38" y="313.30" width="1.35" height="6.00" fill="#000"/>
<rect x="75.00" y="314.60" width="3.20" height="1.40" fill="#000"/>
<rect x="89.30" y="315.62" width="6.00" height="1.35" fill="#000"/>
<rect x="91.62" y="313.30" width="1.35" height="6.00" fill="#000"/>
<rect x="112.35" y="314.60" width="3.20" height="1.40" fill="#000"/>
<rect x="126.95" y="315.62" width="6.00" height="1.35" fill="#000"/>
<rect x="129.27" y="313.30" width="1.35" height="6.00" fill="#000"/>
<rect x="149.65" y="314.60" width="3.20" height="1.40" fill="#000"/>
<rect x="164.20" y="315.62" width="6.00" height="1.35" fill="#000"/>
<rect x="166.52" y="313.30" width="1.35" height="6.00" fill="#000"/>
<text transform="translate(14.60 329.30) scale(1.05 1)" font-size="7.4" font-weight="bold" text-anchor="start" fill="#000">Enza</text>
<rect x="37.65" y="326.30" width="3.20" height="1.40" fill="#000"/>
<rect x="53.45" y="326.30" width="3.20" height="1.40" fill="#000"/>
<rect x="73.60" y="327.32" width="6.00" height="1.35" fill="#000"/>
<rect x="75.92" y="325.00" width="1.35" height="6.00" fill="#000"/>
<rect x="89.30" y="327.32" width="6.00" height="1.35" fill="#000"/>
<rect x="91.62" y="325.00" width="1.35" height="6.00" fill="#000"/>
<rect x="112.35" y="326.30" width="3.20" height="1.40" fill="#000"/>
<rect x="128.35" y="326.30" width="3.20" height="1.40" fill="#000"/>
<rect x="149.65" y="326.30" width="3.20" height="1.40" fill="#000"/>
<rect x="165.60" y="326.30" width="3.20" height="1.40" fill="#000"/>
<text transform="translate(14.60 340.10) scale(1.05 1)" font-size="7.4" font-weight="bold" text-anchor="start" fill="#000">Apa</text>
<rect x="37.65" y="337.10" width="3.20" height="1.40" fill="#000"/>
<rect x="53.45" y="337.10" width="3.20" height="1.40" fill="#000"/>
<rect x="75.00" y="337.10" width="3.20" height="1.40" fill="#000"/>
<rect x="90.70" y="337.10" width="3.20" height="1.40" fill="#000"/>
<rect x="110.95" y="338.12" width="6.00" height="1.35" fill="#000"/>
<rect x="113.27" y="335.80" width="1.35" height="6.00" fill="#000"/>
<rect x="126.95" y="338.12" width="6.00" height="1.35" fill="#000"/>
<rect x="129.27" y="335.80" width="1.35" height="6.00" fill="#000"/>
<rect x="149.65" y="337.10" width="3.20" height="1.40" fill="#000"/>
<rect x="165.60" y="337.10" width="3.20" height="1.40" fill="#000"/>
<text transform="translate(14.60 351.80) scale(1.05 1)" font-size="7.4" font-weight="bold" text-anchor="start" fill="#000">Daro</text>
<rect x="37.65" y="348.80" width="3.20" height="1.40" fill="#000"/>
<rect x="53.45" y="348.80" width="3.20" height="1.40" fill="#000"/>
<rect x="75.00" y="348.80" width="3.20" height="1.40" fill="#000"/>
<rect x="90.70" y="348.80" width="3.20" height="1.40" fill="#000"/>
<rect x="112.35" y="348.80" width="3.20" height="1.40" fill="#000"/>
<rect x="128.35" y="348.80" width="3.20" height="1.40" fill="#000"/>
<rect x="148.25" y="349.82" width="6.00" height="1.35" fill="#000"/>
<rect x="150.57" y="347.50" width="1.35" height="6.00" fill="#000"/>
<rect x="164.20" y="349.82" width="6.00" height="1.35" fill="#000"/>
<rect x="166.52" y="347.50" width="1.35" height="6.00" fill="#000"/>
<text transform="translate(283.00 188.10)" font-size="8.7" font-weight="bold" text-anchor="middle" fill="#000">LNCaPabl</text>
<line x1="213.85" y1="192.90" x2="345.45" y2="192.90" stroke="#000" stroke-width="1.1" stroke-linecap="butt"/>
<line x1="214.40" y1="192.90" x2="214.40" y2="197.20" stroke="#000" stroke-width="1.1" stroke-linecap="butt"/>
<line x1="232.70" y1="192.90" x2="232.70" y2="197.20" stroke="#000" stroke-width="1.1" stroke-linecap="butt"/>
<line x1="251.70" y1="192.90" x2="251.70" y2="197.20" stroke="#000" stroke-width="1.1" stroke-linecap="butt"/>
<line x1="269.70" y1="192.90" x2="269.70" y2="197.20" stroke="#000" stroke-width="1.1" stroke-linecap="butt"/>
<line x1="290.50" y1="192.90" x2="290.50" y2="197.20" stroke="#000" stroke-width="1.1" stroke-linecap="butt"/>
<line x1="308.30" y1="192.90" x2="308.30" y2="197.20" stroke="#000" stroke-width="1.1" stroke-linecap="butt"/>
<line x1="327.50" y1="192.90" x2="327.50" y2="197.20" stroke="#000" stroke-width="1.1" stroke-linecap="butt"/>
<line x1="344.90" y1="192.90" x2="344.90" y2="197.20" stroke="#000" stroke-width="1.1" stroke-linecap="butt"/>
<polygon points="230.43,198.55 231.19,200.35 233.14,200.52 231.66,201.80 232.10,203.71 230.43,202.70 228.75,203.71 229.19,201.80 227.71,200.52 229.66,200.35" fill="#000"/>
<polygon points="235.57,198.55 236.34,200.35 238.29,200.52 236.81,201.80 237.25,203.71 235.57,202.70 233.90,203.71 234.34,201.80 232.86,200.52 234.81,200.35" fill="#000"/>
<polygon points="264.55,198.55 265.31,200.35 267.26,200.52 265.79,201.80 266.23,203.71 264.55,202.70 262.87,203.71 263.31,201.80 261.84,200.52 263.79,200.35" fill="#000"/>
<polygon points="269.70,198.55 270.46,200.35 272.41,200.52 270.94,201.80 271.38,203.71 269.70,202.70 268.02,203.71 268.46,201.80 266.99,200.52 268.94,200.35" fill="#000"/>
<polygon points="274.85,198.55 275.61,200.35 277.56,200.52 276.09,201.80 276.53,203.71 274.85,202.70 273.17,203.71 273.61,201.80 272.14,200.52 274.09,200.35" fill="#000"/>
<polygon points="303.35,198.55 304.11,200.35 306.06,200.52 304.59,201.80 305.03,203.71 303.35,202.70 301.67,203.71 302.11,201.80 300.64,200.52 302.59,200.35" fill="#000"/>
<polygon points="308.50,198.55 309.26,200.35 311.21,200.52 309.74,201.80 310.18,203.71 308.50,202.70 306.82,203.71 307.26,201.80 305.79,200.52 307.74,200.35" fill="#000"/>
<polygon points="313.65,198.55 314.41,200.35 316.36,200.52 314.89,201.80 315.33,203.71 313.65,202.70 311.97,203.71 312.41,201.80 310.94,200.52 312.89,200.35" fill="#000"/>
<polygon points="339.75,198.55 340.51,200.35 342.46,200.52 340.99,201.80 341.43,203.71 339.75,202.70 338.07,203.71 338.51,201.80 337.04,200.52 338.99,200.35" fill="#000"/>
<polygon points="344.90,198.55 345.66,200.35 347.61,200.52 346.14,201.80 346.58,203.71 344.90,202.70 343.22,203.71 343.66,201.80 342.19,200.52 344.14,200.35" fill="#000"/>
<polygon points="350.05,198.55 350.81,200.35 352.76,200.52 351.29,201.80 351.73,203.71 350.05,202.70 348.37,203.71 348.81,201.80 347.34,200.52 349.29,200.35" fill="#000"/>
<text transform="translate(251.00 207.40)" font-size="8.0" font-weight="normal" text-anchor="middle" fill="#000" stroke="#000" stroke-width="0.3">ns</text>
<text transform="translate(290.20 207.40)" font-size="8.0" font-weight="normal" text-anchor="middle" fill="#000" stroke="#000" stroke-width="0.3">ns</text>
<text transform="translate(327.10 207.40)" font-size="8.0" font-weight="normal" text-anchor="middle" fill="#000" stroke="#000" stroke-width="0.3">ns</text>
<line x1="252.60" y1="221.80" x2="270.30" y2="221.80" stroke="#000" stroke-width="1.1" stroke-linecap="butt"/>
<line x1="252.60" y1="219.70" x2="252.60" y2="223.90" stroke="#000" stroke-width="1.1" stroke-linecap="butt"/>
<line x1="270.30" y1="219.70" x2="270.30" y2="223.90" stroke="#000" stroke-width="1.1" stroke-linecap="butt"/>
<polygon points="258.93,214.15 259.69,215.95 261.64,216.12 260.16,217.40 260.60,219.31 258.93,218.30 257.25,219.31 257.69,217.40 256.21,216.12 258.16,215.95" fill="#000"/>
<polygon points="264.07,214.15 264.84,215.95 266.79,216.12 265.31,217.40 265.75,219.31 264.07,218.30 262.40,219.31 262.84,217.40 261.36,216.12 263.31,215.95" fill="#000"/>
<line x1="290.20" y1="221.80" x2="307.60" y2="221.80" stroke="#000" stroke-width="1.1" stroke-linecap="butt"/>
<line x1="290.20" y1="219.70" x2="290.20" y2="223.90" stroke="#000" stroke-width="1.1" stroke-linecap="butt"/>
<line x1="307.60" y1="219.70" x2="307.60" y2="223.90" stroke="#000" stroke-width="1.1" stroke-linecap="butt"/>
<polygon points="295.93,214.15 296.69,215.95 298.64,216.12 297.16,217.40 297.60,219.31 295.93,218.30 294.25,219.31 294.69,217.40 293.21,216.12 295.16,215.95" fill="#000"/>
<polygon points="301.07,214.15 301.84,215.95 303.79,216.12 302.31,217.40 302.75,219.31 301.07,218.30 299.40,219.31 299.84,217.40 298.36,216.12 300.31,215.95" fill="#000"/>
<line x1="326.60" y1="221.80" x2="344.30" y2="221.80" stroke="#000" stroke-width="1.1" stroke-linecap="butt"/>
<line x1="326.60" y1="219.70" x2="326.60" y2="223.90" stroke="#000" stroke-width="1.1" stroke-linecap="butt"/>
<line x1="344.30" y1="219.70" x2="344.30" y2="223.90" stroke="#000" stroke-width="1.1" stroke-linecap="butt"/>
<polygon points="330.25,214.15 331.01,215.95 332.96,216.12 331.49,217.40 331.93,219.31 330.25,218.30 328.57,219.31 329.01,217.40 327.54,216.12 329.49,215.95" fill="#000"/>
<polygon points="335.40,214.15 336.16,215.95 338.11,216.12 336.64,217.40 337.08,219.31 335.40,218.30 333.72,219.31 334.16,217.40 332.69,216.12 334.64,215.95" fill="#000"/>
<polygon points="340.55,214.15 341.31,215.95 343.26,216.12 341.79,217.40 342.23,219.31 340.55,218.30 338.87,219.31 339.31,217.40 337.84,216.12 339.79,215.95" fill="#000"/>
<rect x="210.00" y="233.30" width="10.80" height="68.90" fill="#000"/>
<line x1="231.10" y1="244.90" x2="231.10" y2="247.20" stroke="#000" stroke-width="1.1" stroke-linecap="butt"/>
<line x1="228.07" y1="244.90" x2="234.12" y2="244.90" stroke="#000" stroke-width="1.1" stroke-linecap="butt"/>
<rect x="225.60" y="247.20" width="11.00" height="55.00" fill="#000"/>
<line x1="252.60" y1="240.60" x2="252.60" y2="242.80" stroke="#000" stroke-width="1.1" stroke-linecap="butt"/>
<line x1="249.69" y1="240.60" x2="255.51" y2="240.60" stroke="#000" stroke-width="1.1" stroke-linecap="butt"/>
<rect x="247.80" y="243.30" width="9.60" height="59.40" fill="#c00000" stroke="#000" stroke-width="1.0"/>
<line x1="268.10" y1="254.80" x2="268.10" y2="256.40" stroke="#000" stroke-width="1.1" stroke-linecap="butt"/>
<line x1="265.19" y1="254.80" x2="271.01" y2="254.80" stroke="#000" stroke-width="1.1" stroke-linecap="butt"/>
<rect x="263.30" y="256.90" width="9.60" height="45.80" fill="#c00000" stroke="#000" stroke-width="1.0"/>
<line x1="289.30" y1="238.30" x2="289.30" y2="240.60" stroke="#000" stroke-width="1.1" stroke-linecap="butt"/>
<line x1="286.38" y1="238.30" x2="292.22" y2="238.30" stroke="#000" stroke-width="1.1" stroke-linecap="butt"/>
<rect x="284.50" y="241.10" width="9.60" height="61.60" fill="#558ed5" stroke="#000" stroke-width="1.0"/>
<line x1="305.10" y1="252.90" x2="305.10" y2="254.60" stroke="#000" stroke-width="1.1" stroke-linecap="butt"/>
<line x1="302.08" y1="252.90" x2="308.12" y2="252.90" stroke="#000" stroke-width="1.1" stroke-linecap="butt"/>
<rect x="300.10" y="255.10" width="10.00" height="47.60" fill="#558ed5" stroke="#000" stroke-width="1.0"/>
<line x1="326.20" y1="240.40" x2="326.20" y2="242.40" stroke="#000" stroke-width="1.1" stroke-linecap="butt"/>
<line x1="323.28" y1="240.40" x2="329.12" y2="240.40" stroke="#000" stroke-width="1.1" stroke-linecap="butt"/>
<rect x="321.40" y="242.90" width="9.60" height="59.80" fill="#77933c" stroke="#000" stroke-width="1.0"/>
<line x1="342.10" y1="255.50" x2="342.10" y2="258.20" stroke="#000" stroke-width="1.1" stroke-linecap="butt"/>
<line x1="339.13" y1="255.50" x2="345.07" y2="255.50" stroke="#000" stroke-width="1.1" stroke-linecap="butt"/>
<rect x="337.20" y="258.70" width="9.80" height="44.00" fill="#77933c" stroke="#000" stroke-width="1.0"/>
<line x1="207.00" y1="215.75" x2="207.00" y2="302.75" stroke="#000" stroke-width="1.1" stroke-linecap="butt"/>
<line x1="206.45" y1="302.20" x2="350.60" y2="302.20" stroke="#000" stroke-width="1.1" stroke-linecap="butt"/>
<line x1="204.40" y1="302.20" x2="207.00" y2="302.20" stroke="#000" stroke-width="1.1" stroke-linecap="butt"/>
<text transform="translate(202.80 304.85) scale(1.03 1)" font-size="7.4" font-weight="bold" text-anchor="end" fill="#000">0</text>
<line x1="204.40" y1="285.02" x2="207.00" y2="285.02" stroke="#000" stroke-width="1.1" stroke-linecap="butt"/>
<text transform="translate(202.80 287.67) scale(1.03 1)" font-size="7.4" font-weight="bold" text-anchor="end" fill="#000">25</text>
<line x1="204.40" y1="267.84" x2="207.00" y2="267.84" stroke="#000" stroke-width="1.1" stroke-linecap="butt"/>
<text transform="translate(202.80 270.49) scale(1.03 1)" font-size="7.4" font-weight="bold" text-anchor="end" fill="#000">50</text>
<line x1="204.40" y1="250.66" x2="207.00" y2="250.66" stroke="#000" stroke-width="1.1" stroke-linecap="butt"/>
<text transform="translate(202.80 253.31) scale(1.03 1)" font-size="7.4" font-weight="bold" text-anchor="end" fill="#000">75</text>
<line x1="204.40" y1="233.48" x2="207.00" y2="233.48" stroke="#000" stroke-width="1.1" stroke-linecap="butt"/>
<text transform="translate(202.80 236.13) scale(1.03 1)" font-size="7.4" font-weight="bold" text-anchor="end" fill="#000">100</text>
<line x1="204.40" y1="216.30" x2="207.00" y2="216.30" stroke="#000" stroke-width="1.1" stroke-linecap="butt"/>
<text transform="translate(202.80 218.95) scale(1.03 1)" font-size="7.4" font-weight="bold" text-anchor="end" fill="#000">125</text>
<line x1="215.40" y1="302.20" x2="215.40" y2="304.80" stroke="#000" stroke-width="1.1" stroke-linecap="butt"/>
<line x1="231.10" y1="302.20" x2="231.10" y2="304.80" stroke="#000" stroke-width="1.1" stroke-linecap="butt"/>
<line x1="252.60" y1="302.20" x2="252.60" y2="304.80" stroke="#000" stroke-width="1.1" stroke-linecap="butt"/>
<line x1="268.10" y1="302.20" x2="268.10" y2="304.80" stroke="#000" stroke-width="1.1" stroke-linecap="butt"/>
<line x1="289.30" y1="302.20" x2="289.30" y2="304.80" stroke="#000" stroke-width="1.1" stroke-linecap="butt"/>
<line x1="305.10" y1="302.20" x2="305.10" y2="304.80" stroke="#000" stroke-width="1.1" stroke-linecap="butt"/>
<line x1="326.20" y1="302.20" x2="326.20" y2="304.80" stroke="#000" stroke-width="1.1" stroke-linecap="butt"/>
<line x1="342.10" y1="302.20" x2="342.10" y2="304.80" stroke="#000" stroke-width="1.1" stroke-linecap="butt"/>
<text transform="translate(185.70 254.25) rotate(-90)" font-size="7.6" font-weight="bold" text-anchor="middle" fill="#000">cell number (%)</text>
<text transform="translate(191.00 317.60) scale(1.05 1)" font-size="7.4" font-weight="bold" text-anchor="start" fill="#000">Clor</text>
<rect x="213.80" y="314.60" width="3.20" height="1.40" fill="#000"/>
<rect x="228.10" y="315.62" width="6.00" height="1.35" fill="#000"/>
<rect x="230.42" y="313.30" width="1.35" height="6.00" fill="#000"/>
<rect x="251.00" y="314.60" width="3.20" height="1.40" fill="#000"/>
<rect x="265.10" y="315.62" width="6.00" height="1.35" fill="#000"/>
<rect x="267.43" y="313.30" width="1.35" height="6.00" fill="#000"/>
<rect x="287.70" y="314.60" width="3.20" height="1.40" fill="#000"/>
<rect x="302.10" y="315.62" width="6.00" height="1.35" fill="#000"/>
<rect x="304.43" y="313.30" width="1.35" height="6.00" fill="#000"/>
<rect x="324.60" y="314.60" width="3.20" height="1.40" fill="#000"/>
<rect x="339.10" y="315.62" width="6.00" height="1.35" fill="#000"/>
<rect x="341.43" y="313.30" width="1.35" height="6.00" fill="#000"/>
<text transform="translate(191.00 329.30) scale(1.05 1)" font-size="7.4" font-weight="bold" text-anchor="start" fill="#000">Enza</text>
<rect x="213.80" y="326.30" width="3.20" height="1.40" fill="#000"/>
<rect x="229.50" y="326.30" width="3.20" height="1.40" fill="#000"/>
<rect x="249.60" y="327.32" width="6.00" height="1.35" fill="#000"/>
<rect x="251.92" y="325.00" width="1.35" height="6.00" fill="#000"/>
<rect x="265.10" y="327.32" width="6.00" height="1.35" fill="#000"/>
<rect x="267.43" y="325.00" width="1.35" height="6.00" fill="#000"/>
<rect x="287.70" y="326.30" width="3.20" height="1.40" fill="#000"/>
<rect x="303.50" y="326.30" width="3.20" height="1.40" fill="#000"/>
<rect x="324.60" y="326.30" width="3.20" height="1.40" fill="#000"/>
<rect x="340.50" y="326.30" width="3.20" height="1.40" fill="#000"/>
<text transform="translate(191.00 340.10) scale(1.05 1)" font-size="7.4" font-weight="bold" text-anchor="start" fill="#000">Apa</text>
<rect x="213.80" y="337.10" width="3.20" height="1.40" fill="#000"/>
<rect x="229.50" y="337.10" width="3.20" height="1.40" fill="#000"/>
<rect x="251.00" y="337.10" width="3.20" height="1.40" fill="#000"/>
<rect x="266.50" y="337.10" width="3.20" height="1.40" fill="#000"/>
<rect x="286.30" y="338.12" width="6.00" height="1.35" fill="#000"/>
<rect x="288.62" y="335.80" width="1.35" height="6.00" fill="#000"/>
<rect x="302.10" y="338.12" width="6.00" height="1.35" fill="#000"/>
<rect x="304.43" y="335.80" width="1.35" height="6.00" fill="#000"/>
<rect x="324.60" y="337.10" width="3.20" height="1.40" fill="#000"/>
<rect x="340.50" y="337.10" width="3.20" height="1.40" fill="#000"/>
<text transform="translate(191.00 351.80) scale(1.05 1)" font-size="7.4" font-weight="bold" text-anchor="start" fill="#000">Daro</text>
<rect x="213.80" y="348.80" width="3.20" height="1.40" fill="#000"/>
<rect x="229.50" y="348.80" width="3.20" height="1.40" fill="#000"/>
<rect x="251.00" y="348.80" width="3.20" height="1.40" fill="#000"/>
<rect x="266.50" y="348.80" width="3.20" height="1.40" fill="#000"/>
<rect x="287.70" y="348.80" width="3.20" height="1.40" fill="#000"/>
<rect x="303.50" y="348.80" width="3.20" height="1.40" fill="#000"/>
<rect x="323.20" y="349.82" width="6.00" height="1.35" fill="#000"/>
<rect x="325.52" y="347.50" width="1.35" height="6.00" fill="#000"/>
<rect x="339.10" y="349.82" width="6.00" height="1.35" fill="#000"/>
<rect x="341.43" y="347.50" width="1.35" height="6.00" fill="#000"/>
<text transform="translate(365.80 182.30)" font-size="15.6" font-weight="bold" text-anchor="start" fill="#000">D</text>
<text transform="translate(431.80 188.10)" font-size="8.7" font-weight="bold" text-anchor="middle" fill="#000">LNCaP</text>
<line x1="398.85" y1="192.90" x2="461.15" y2="192.90" stroke="#000" stroke-width="1.1" stroke-linecap="butt"/>
<line x1="399.40" y1="192.90" x2="399.40" y2="197.20" stroke="#000" stroke-width="1.1" stroke-linecap="butt"/>
<line x1="418.60" y1="192.90" x2="418.60" y2="197.20" stroke="#000" stroke-width="1.1" stroke-linecap="butt"/>
<line x1="442.30" y1="192.90" x2="442.30" y2="197.20" stroke="#000" stroke-width="1.1" stroke-linecap="butt"/>
<line x1="460.60" y1="192.90" x2="460.60" y2="197.20" stroke="#000" stroke-width="1.1" stroke-linecap="butt"/>
<polygon points="413.45,198.55 414.21,200.35 416.16,200.52 414.69,201.80 415.13,203.71 413.45,202.70 411.77,203.71 412.21,201.80 410.74,200.52 412.69,200.35" fill="#000"/>
<polygon points="418.60,198.55 419.36,200.35 421.31,200.52 419.84,201.80 420.28,203.71 418.60,202.70 416.92,203.71 417.36,201.80 415.89,200.52 417.84,200.35" fill="#000"/>
<polygon points="423.75,198.55 424.51,200.35 426.46,200.52 424.99,201.80 425.43,203.71 423.75,202.70 422.07,203.71 422.51,201.80 421.04,200.52 422.99,200.35" fill="#000"/>
<polygon points="437.75,198.55 438.51,200.35 440.46,200.52 438.99,201.80 439.43,203.71 437.75,202.70 436.07,203.71 436.51,201.80 435.04,200.52 436.99,200.35" fill="#000"/>
<polygon points="442.90,198.55 443.66,200.35 445.61,200.52 444.14,201.80 444.58,203.71 442.90,202.70 441.22,203.71 441.66,201.80 440.19,200.52 442.14,200.35" fill="#000"/>
<polygon points="448.05,198.55 448.81,200.35 450.76,200.52 449.29,201.80 449.73,203.71 448.05,202.70 446.37,203.71 446.81,201.80 445.34,200.52 447.29,200.35" fill="#000"/>
<polygon points="455.85,198.55 456.61,200.35 458.56,200.52 457.09,201.80 457.53,203.71 455.85,202.70 454.17,203.71 454.61,201.80 453.14,200.52 455.09,200.35" fill="#000"/>
<polygon points="461.00,198.55 461.76,200.35 463.71,200.52 462.24,201.80 462.68,203.71 461.00,202.70 459.32,203.71 459.76,201.80 458.29,200.52 460.24,200.35" fill="#000"/>
<polygon points="466.15,198.55 466.91,200.35 468.86,200.52 467.39,201.80 467.83,203.71 466.15,202.70 464.47,203.71 464.91,201.80 463.44,200.52 465.39,200.35" fill="#000"/>
<line x1="440.60" y1="221.80" x2="460.60" y2="221.80" stroke="#000" stroke-width="1.1" stroke-linecap="butt"/>
<line x1="440.60" y1="219.70" x2="440.60" y2="223.90" stroke="#000" stroke-width="1.1" stroke-linecap="butt"/>
<line x1="460.60" y1="219.70" x2="460.60" y2="223.90" stroke="#000" stroke-width="1.1" stroke-linecap="butt"/>
<polygon points="447.93,214.15 448.69,215.95 450.64,216.12 449.16,217.40 449.60,219.31 447.93,218.30 446.25,219.31 446.69,217.40 445.21,216.12 447.16,215.95" fill="#000"/>
<polygon points="453.07,214.15 453.84,215.95 455.79,216.12 454.31,217.40 454.75,219.31 453.07,218.30 451.40,219.31 451.84,217.40 450.36,216.12 452.31,215.95" fill="#000"/>
<rect x="393.50" y="235.50" width="14.20" height="67.20" fill="#000"/>
<line x1="420.50" y1="277.40" x2="420.50" y2="277.80" stroke="#000" stroke-width="1.1" stroke-linecap="butt"/>
<line x1="416.49" y1="277.40" x2="424.51" y2="277.40" stroke="#000" stroke-width="1.1" stroke-linecap="butt"/>
<rect x="413.20" y="277.80" width="14.60" height="24.90" fill="#000"/>
<line x1="440.85" y1="279.60" x2="440.85" y2="281.40" stroke="#000" stroke-width="1.1" stroke-linecap="butt"/>
<line x1="437.08" y1="279.60" x2="444.62" y2="279.60" stroke="#000" stroke-width="1.1" stroke-linecap="butt"/>
<rect x="434.50" y="281.90" width="12.70" height="21.30" fill="#c00000" stroke="#000" stroke-width="1.0"/>
<line x1="460.80" y1="291.50" x2="460.80" y2="293.30" stroke="#000" stroke-width="1.1" stroke-linecap="butt"/>
<line x1="457.00" y1="291.50" x2="464.59" y2="291.50" stroke="#000" stroke-width="1.1" stroke-linecap="butt"/>
<rect x="454.40" y="293.80" width="12.80" height="9.40" fill="#c00000" stroke="#000" stroke-width="1.0"/>
<line x1="390.00" y1="218.05" x2="390.00" y2="303.25" stroke="#000" stroke-width="1.1" stroke-linecap="butt"/>
<line x1="389.45" y1="302.70" x2="471.40" y2="302.70" stroke="#000" stroke-width="1.1" stroke-linecap="butt"/>
<line x1="387.40" y1="302.70" x2="390.00" y2="302.70" stroke="#000" stroke-width="1.1" stroke-linecap="butt"/>
<text transform="translate(385.80 305.35) scale(1.03 1)" font-size="7.4" font-weight="bold" text-anchor="end" fill="#000">0</text>
<line x1="387.40" y1="285.88" x2="390.00" y2="285.88" stroke="#000" stroke-width="1.1" stroke-linecap="butt"/>
<text transform="translate(385.80 288.53) scale(1.03 1)" font-size="7.4" font-weight="bold" text-anchor="end" fill="#000">25</text>
<line x1="387.40" y1="269.06" x2="390.00" y2="269.06" stroke="#000" stroke-width="1.1" stroke-linecap="butt"/>
<text transform="translate(385.80 271.71) scale(1.03 1)" font-size="7.4" font-weight="bold" text-anchor="end" fill="#000">50</text>
<line x1="387.40" y1="252.24" x2="390.00" y2="252.24" stroke="#000" stroke-width="1.1" stroke-linecap="butt"/>
<text transform="translate(385.80 254.89) scale(1.03 1)" font-size="7.4" font-weight="bold" text-anchor="end" fill="#000">75</text>
<line x1="387.40" y1="235.42" x2="390.00" y2="235.42" stroke="#000" stroke-width="1.1" stroke-linecap="butt"/>
<text transform="translate(385.80 238.07) scale(1.03 1)" font-size="7.4" font-weight="bold" text-anchor="end" fill="#000">100</text>
<line x1="387.40" y1="218.60" x2="390.00" y2="218.60" stroke="#000" stroke-width="1.1" stroke-linecap="butt"/>
<text transform="translate(385.80 221.25) scale(1.03 1)" font-size="7.4" font-weight="bold" text-anchor="end" fill="#000">125</text>
<line x1="400.60" y1="302.70" x2="400.60" y2="305.30" stroke="#000" stroke-width="1.1" stroke-linecap="butt"/>
<line x1="420.50" y1="302.70" x2="420.50" y2="305.30" stroke="#000" stroke-width="1.1" stroke-linecap="butt"/>
<line x1="440.85" y1="302.70" x2="440.85" y2="305.30" stroke="#000" stroke-width="1.1" stroke-linecap="butt"/>
<line x1="460.80" y1="302.70" x2="460.80" y2="305.30" stroke="#000" stroke-width="1.1" stroke-linecap="butt"/>
<text transform="translate(369.60 254.45) rotate(-90)" font-size="7.6" font-weight="bold" text-anchor="middle" fill="#000">cell number (%)</text>
<text transform="translate(392.20 317.40) scale(1.05 1)" font-size="7.4" font-weight="bold" text-anchor="end" fill="#000">Clor</text>
<rect x="399.00" y="314.60" width="3.20" height="1.40" fill="#000"/>
<rect x="417.50" y="316.32" width="6.00" height="1.35" fill="#000"/>
<rect x="419.82" y="314.00" width="1.35" height="6.00" fill="#000"/>
<rect x="439.25" y="314.60" width="3.20" height="1.40" fill="#000"/>
<rect x="457.80" y="316.32" width="6.00" height="1.35" fill="#000"/>
<rect x="460.12" y="314.00" width="1.35" height="6.00" fill="#000"/>
<text transform="translate(392.20 327.20) scale(1.05 1)" font-size="7.4" font-weight="bold" text-anchor="end" fill="#000">Abi</text>
<rect x="399.00" y="324.40" width="3.20" height="1.40" fill="#000"/>
<rect x="418.90" y="324.40" width="3.20" height="1.40" fill="#000"/>
<rect x="437.85" y="326.12" width="6.00" height="1.35" fill="#000"/>
<rect x="440.18" y="323.80" width="1.35" height="6.00" fill="#000"/>
<rect x="457.80" y="326.12" width="6.00" height="1.35" fill="#000"/>
<rect x="460.12" y="323.80" width="1.35" height="6.00" fill="#000"/>
<text transform="translate(531.50 188.10)" font-size="8.7" font-weight="bold" text-anchor="middle" fill="#000">LNCaPabl</text>
<line x1="504.35" y1="192.90" x2="567.05" y2="192.90" stroke="#000" stroke-width="1.1" stroke-linecap="butt"/>
<line x1="504.90" y1="192.90" x2="504.90" y2="197.20" stroke="#000" stroke-width="1.1" stroke-linecap="butt"/>
<line x1="524.30" y1="192.90" x2="524.30" y2="197.20" stroke="#000" stroke-width="1.1" stroke-linecap="butt"/>
<line x1="548.40" y1="192.90" x2="548.40" y2="197.20" stroke="#000" stroke-width="1.1" stroke-linecap="butt"/>
<line x1="566.50" y1="192.90" x2="566.50" y2="197.20" stroke="#000" stroke-width="1.1" stroke-linecap="butt"/>
<polygon points="519.65,198.55 520.41,200.35 522.36,200.52 520.89,201.80 521.33,203.71 519.65,202.70 517.97,203.71 518.41,201.80 516.94,200.52 518.89,200.35" fill="#000"/>
<polygon points="524.80,198.55 525.56,200.35 527.51,200.52 526.04,201.80 526.48,203.71 524.80,202.70 523.12,203.71 523.56,201.80 522.09,200.52 524.04,200.35" fill="#000"/>
<polygon points="529.95,198.55 530.71,200.35 532.66,200.52 531.19,201.80 531.63,203.71 529.95,202.70 528.27,203.71 528.71,201.80 527.24,200.52 529.19,200.35" fill="#000"/>
<polygon points="543.95,198.55 544.71,200.35 546.66,200.52 545.19,201.80 545.63,203.71 543.95,202.70 542.27,203.71 542.71,201.80 541.24,200.52 543.19,200.35" fill="#000"/>
<polygon points="549.10,198.55 549.86,200.35 551.81,200.52 550.34,201.80 550.78,203.71 549.10,202.70 547.42,203.71 547.86,201.80 546.39,200.52 548.34,200.35" fill="#000"/>
<polygon points="554.25,198.55 555.01,200.35 556.96,200.52 555.49,201.80 555.93,203.71 554.25,202.70 552.57,203.71 553.01,201.80 551.54,200.52 553.49,200.35" fill="#000"/>
<polygon points="561.85,198.55 562.61,200.35 564.56,200.52 563.09,201.80 563.53,203.71 561.85,202.70 560.17,203.71 560.61,201.80 559.14,200.52 561.09,200.35" fill="#000"/>
<polygon points="567.00,198.55 567.76,200.35 569.71,200.52 568.24,201.80 568.68,203.71 567.00,202.70 565.32,203.71 565.76,201.80 564.29,200.52 566.24,200.35" fill="#000"/>
<polygon points="572.15,198.55 572.91,200.35 574.86,200.52 573.39,201.80 573.83,203.71 572.15,202.70 570.47,203.71 570.91,201.80 569.44,200.52 571.39,200.35" fill="#000"/>
<line x1="546.60" y1="221.80" x2="566.50" y2="221.80" stroke="#000" stroke-width="1.1" stroke-linecap="butt"/>
<line x1="546.60" y1="219.70" x2="546.60" y2="223.90" stroke="#000" stroke-width="1.1" stroke-linecap="butt"/>
<line x1="566.50" y1="219.70" x2="566.50" y2="223.90" stroke="#000" stroke-width="1.1" stroke-linecap="butt"/>
<polygon points="556.80,213.75 557.56,215.55 559.51,215.72 558.04,217.00 558.48,218.91 556.80,217.90 555.12,218.91 555.56,217.00 554.09,215.72 556.04,215.55" fill="#000"/>
<rect x="497.80" y="235.10" width="14.00" height="67.10" fill="#000"/>
<line x1="524.80" y1="251.70" x2="524.80" y2="254.20" stroke="#000" stroke-width="1.1" stroke-linecap="butt"/>
<line x1="520.89" y1="251.70" x2="528.70" y2="251.70" stroke="#000" stroke-width="1.1" stroke-linecap="butt"/>
<rect x="517.70" y="254.20" width="14.20" height="48.00" fill="#000"/>
<line x1="544.95" y1="255.30" x2="544.95" y2="256.50" stroke="#000" stroke-width="1.1" stroke-linecap="butt"/>
<line x1="541.18" y1="255.30" x2="548.72" y2="255.30" stroke="#000" stroke-width="1.1" stroke-linecap="butt"/>
<rect x="538.60" y="257.00" width="12.70" height="45.70" fill="#c00000" stroke="#000" stroke-width="1.0"/>
<line x1="564.55" y1="263.30" x2="564.55" y2="266.30" stroke="#000" stroke-width="1.1" stroke-linecap="butt"/>
<line x1="560.73" y1="263.30" x2="568.37" y2="263.30" stroke="#000" stroke-width="1.1" stroke-linecap="butt"/>
<rect x="558.10" y="266.80" width="12.90" height="35.90" fill="#c00000" stroke="#000" stroke-width="1.0"/>
<line x1="494.30" y1="217.75" x2="494.30" y2="302.75" stroke="#000" stroke-width="1.1" stroke-linecap="butt"/>
<line x1="493.75" y1="302.20" x2="573.70" y2="302.20" stroke="#000" stroke-width="1.1" stroke-linecap="butt"/>
<line x1="491.70" y1="302.20" x2="494.30" y2="302.20" stroke="#000" stroke-width="1.1" stroke-linecap="butt"/>
<text transform="translate(490.40 304.85) scale(1.03 1)" font-size="7.4" font-weight="bold" text-anchor="end" fill="#000">0</text>
<line x1="491.70" y1="285.42" x2="494.30" y2="285.42" stroke="#000" stroke-width="1.1" stroke-linecap="butt"/>
<text transform="translate(490.40 288.07) scale(1.03 1)" font-size="7.4" font-weight="bold" text-anchor="end" fill="#000">25</text>
<line x1="491.70" y1="268.64" x2="494.30" y2="268.64" stroke="#000" stroke-width="1.1" stroke-linecap="butt"/>
<text transform="translate(490.40 271.29) scale(1.03 1)" font-size="7.4" font-weight="bold" text-anchor="end" fill="#000">50</text>
<line x1="491.70" y1="251.86" x2="494.30" y2="251.86" stroke="#000" stroke-width="1.1" stroke-linecap="butt"/>
<text transform="translate(490.40 254.51) scale(1.03 1)" font-size="7.4" font-weight="bold" text-anchor="end" fill="#000">75</text>
<line x1="491.70" y1="235.08" x2="494.30" y2="235.08" stroke="#000" stroke-width="1.1" stroke-linecap="butt"/>
<text transform="translate(490.40 237.73) scale(1.03 1)" font-size="7.4" font-weight="bold" text-anchor="end" fill="#000">100</text>
<line x1="491.70" y1="218.30" x2="494.30" y2="218.30" stroke="#000" stroke-width="1.1" stroke-linecap="butt"/>
<text transform="translate(490.40 220.95) scale(1.03 1)" font-size="7.4" font-weight="bold" text-anchor="end" fill="#000">125</text>
<line x1="504.80" y1="302.20" x2="504.80" y2="304.80" stroke="#000" stroke-width="1.1" stroke-linecap="butt"/>
<line x1="524.80" y1="302.20" x2="524.80" y2="304.80" stroke="#000" stroke-width="1.1" stroke-linecap="butt"/>
<line x1="544.95" y1="302.20" x2="544.95" y2="304.80" stroke="#000" stroke-width="1.1" stroke-linecap="butt"/>
<line x1="564.55" y1="302.20" x2="564.55" y2="304.80" stroke="#000" stroke-width="1.1" stroke-linecap="butt"/>
<text transform="translate(474.60 254.05) rotate(-90)" font-size="7.6" font-weight="bold" text-anchor="middle" fill="#000">cell number (%)</text>
<text transform="translate(497.20 317.40) scale(1.05 1)" font-size="7.4" font-weight="bold" text-anchor="end" fill="#000">Clor</text>
<rect x="503.20" y="314.60" width="3.20" height="1.40" fill="#000"/>
<rect x="521.80" y="316.32" width="6.00" height="1.35" fill="#000"/>
<rect x="524.12" y="314.00" width="1.35" height="6.00" fill="#000"/>
<rect x="543.35" y="314.60" width="3.20" height="1.40" fill="#000"/>
<rect x="561.55" y="316.32" width="6.00" height="1.35" fill="#000"/>
<rect x="563.88" y="314.00" width="1.35" height="6.00" fill="#000"/>
<text transform="translate(497.20 327.20) scale(1.05 1)" font-size="7.4" font-weight="bold" text-anchor="end" fill="#000">Abi</text>
<rect x="503.20" y="324.40" width="3.20" height="1.40" fill="#000"/>
<rect x="523.20" y="324.40" width="3.20" height="1.40" fill="#000"/>
<rect x="541.95" y="326.12" width="6.00" height="1.35" fill="#000"/>
<rect x="544.28" y="323.80" width="1.35" height="6.00" fill="#000"/>
<rect x="561.55" y="326.12" width="6.00" height="1.35" fill="#000"/>
<rect x="563.88" y="323.80" width="1.35" height="6.00" fill="#000"/>
<text transform="translate(646.30 188.10)" font-size="8.7" font-weight="bold" text-anchor="middle" fill="#000">abl-Enza</text>
<line x1="614.15" y1="192.90" x2="676.15" y2="192.90" stroke="#000" stroke-width="1.1" stroke-linecap="butt"/>
<line x1="614.70" y1="192.90" x2="614.70" y2="197.20" stroke="#000" stroke-width="1.1" stroke-linecap="butt"/>
<line x1="633.70" y1="192.90" x2="633.70" y2="197.20" stroke="#000" stroke-width="1.1" stroke-linecap="butt"/>
<line x1="657.70" y1="192.90" x2="657.70" y2="197.20" stroke="#000" stroke-width="1.1" stroke-linecap="butt"/>
<line x1="675.60" y1="192.90" x2="675.60" y2="197.20" stroke="#000" stroke-width="1.1" stroke-linecap="butt"/>
<polygon points="628.55,198.55 629.31,200.35 631.26,200.52 629.79,201.80 630.23,203.71 628.55,202.70 626.87,203.71 627.31,201.80 625.84,200.52 627.79,200.35" fill="#000"/>
<polygon points="633.70,198.55 634.46,200.35 636.41,200.52 634.94,201.80 635.38,203.71 633.70,202.70 632.02,203.71 632.46,201.80 630.99,200.52 632.94,200.35" fill="#000"/>
<polygon points="638.85,198.55 639.61,200.35 641.56,200.52 640.09,201.80 640.53,203.71 638.85,202.70 637.17,203.71 637.61,201.80 636.14,200.52 638.09,200.35" fill="#000"/>
<polygon points="652.65,198.55 653.41,200.35 655.36,200.52 653.89,201.80 654.33,203.71 652.65,202.70 650.97,203.71 651.41,201.80 649.94,200.52 651.89,200.35" fill="#000"/>
<polygon points="657.80,198.55 658.56,200.35 660.51,200.52 659.04,201.80 659.48,203.71 657.80,202.70 656.12,203.71 656.56,201.80 655.09,200.52 657.04,200.35" fill="#000"/>
<polygon points="662.95,198.55 663.71,200.35 665.66,200.52 664.19,201.80 664.63,203.71 662.95,202.70 661.27,203.71 661.71,201.80 660.24,200.52 662.19,200.35" fill="#000"/>
<polygon points="670.85,198.55 671.61,200.35 673.56,200.52 672.09,201.80 672.53,203.71 670.85,202.70 669.17,203.71 669.61,201.80 668.14,200.52 670.09,200.35" fill="#000"/>
<polygon points="676.00,198.55 676.76,200.35 678.71,200.52 677.24,201.80 677.68,203.71 676.00,202.70 674.32,203.71 674.76,201.80 673.29,200.52 675.24,200.35" fill="#000"/>
<polygon points="681.15,198.55 681.91,200.35 683.86,200.52 682.39,201.80 682.83,203.71 681.15,202.70 679.47,203.71 679.91,201.80 678.44,200.52 680.39,200.35" fill="#000"/>
<line x1="655.50" y1="221.80" x2="675.40" y2="221.80" stroke="#000" stroke-width="1.1" stroke-linecap="butt"/>
<line x1="655.50" y1="219.70" x2="655.50" y2="223.90" stroke="#000" stroke-width="1.1" stroke-linecap="butt"/>
<line x1="675.40" y1="219.70" x2="675.40" y2="223.90" stroke="#000" stroke-width="1.1" stroke-linecap="butt"/>
<polygon points="663.12,214.15 663.89,215.95 665.84,216.12 664.36,217.40 664.80,219.31 663.12,218.30 661.45,219.31 661.89,217.40 660.41,216.12 662.36,215.95" fill="#000"/>
<polygon points="668.28,214.15 669.04,215.95 670.99,216.12 669.51,217.40 669.95,219.31 668.28,218.30 666.60,219.31 667.04,217.40 665.56,216.12 667.51,215.95" fill="#000"/>
<rect x="608.50" y="235.50" width="13.80" height="67.20" fill="#000"/>
<line x1="635.30" y1="251.20" x2="635.30" y2="253.00" stroke="#000" stroke-width="1.1" stroke-linecap="butt"/>
<line x1="631.50" y1="251.20" x2="639.10" y2="251.20" stroke="#000" stroke-width="1.1" stroke-linecap="butt"/>
<rect x="628.40" y="253.00" width="13.80" height="49.70" fill="#000"/>
<line x1="655.25" y1="261.50" x2="655.25" y2="263.30" stroke="#000" stroke-width="1.1" stroke-linecap="butt"/>
<line x1="651.48" y1="261.50" x2="659.02" y2="261.50" stroke="#000" stroke-width="1.1" stroke-linecap="butt"/>
<rect x="648.90" y="263.80" width="12.70" height="39.40" fill="#c00000" stroke="#000" stroke-width="1.0"/>
<line x1="675.25" y1="274.60" x2="675.25" y2="277.30" stroke="#000" stroke-width="1.1" stroke-linecap="butt"/>
<line x1="671.43" y1="274.60" x2="679.07" y2="274.60" stroke="#000" stroke-width="1.1" stroke-linecap="butt"/>
<rect x="668.80" y="277.80" width="12.90" height="25.40" fill="#c00000" stroke="#000" stroke-width="1.0"/>
<line x1="604.90" y1="218.15" x2="604.90" y2="303.25" stroke="#000" stroke-width="1.1" stroke-linecap="butt"/>
<line x1="604.35" y1="302.70" x2="685.00" y2="302.70" stroke="#000" stroke-width="1.1" stroke-linecap="butt"/>
<line x1="602.30" y1="302.70" x2="604.90" y2="302.70" stroke="#000" stroke-width="1.1" stroke-linecap="butt"/>
<text transform="translate(600.80 305.35) scale(1.03 1)" font-size="7.4" font-weight="bold" text-anchor="end" fill="#000">0</text>
<line x1="602.30" y1="285.90" x2="604.90" y2="285.90" stroke="#000" stroke-width="1.1" stroke-linecap="butt"/>
<text transform="translate(600.80 288.55) scale(1.03 1)" font-size="7.4" font-weight="bold" text-anchor="end" fill="#000">25</text>
<line x1="602.30" y1="269.10" x2="604.90" y2="269.10" stroke="#000" stroke-width="1.1" stroke-linecap="butt"/>
<text transform="translate(600.80 271.75) scale(1.03 1)" font-size="7.4" font-weight="bold" text-anchor="end" fill="#000">50</text>
<line x1="602.30" y1="252.30" x2="604.90" y2="252.30" stroke="#000" stroke-width="1.1" stroke-linecap="butt"/>
<text transform="translate(600.80 254.95) scale(1.03 1)" font-size="7.4" font-weight="bold" text-anchor="end" fill="#000">75</text>
<line x1="602.30" y1="235.50" x2="604.90" y2="235.50" stroke="#000" stroke-width="1.1" stroke-linecap="butt"/>
<text transform="translate(600.80 238.15) scale(1.03 1)" font-size="7.4" font-weight="bold" text-anchor="end" fill="#000">100</text>
<line x1="602.30" y1="218.70" x2="604.90" y2="218.70" stroke="#000" stroke-width="1.1" stroke-linecap="butt"/>
<text transform="translate(600.80 221.35) scale(1.03 1)" font-size="7.4" font-weight="bold" text-anchor="end" fill="#000">125</text>
<line x1="615.40" y1="302.70" x2="615.40" y2="305.30" stroke="#000" stroke-width="1.1" stroke-linecap="butt"/>
<line x1="635.30" y1="302.70" x2="635.30" y2="305.30" stroke="#000" stroke-width="1.1" stroke-linecap="butt"/>
<line x1="655.25" y1="302.70" x2="655.25" y2="305.30" stroke="#000" stroke-width="1.1" stroke-linecap="butt"/>
<line x1="675.25" y1="302.70" x2="675.25" y2="305.30" stroke="#000" stroke-width="1.1" stroke-linecap="butt"/>
<text transform="translate(584.60 255.00) rotate(-90)" font-size="7.6" font-weight="bold" text-anchor="middle" fill="#000">cell number (%)</text>
<text transform="translate(607.90 317.40) scale(1.05 1)" font-size="7.4" font-weight="bold" text-anchor="end" fill="#000">Clor</text>
<rect x="613.80" y="314.60" width="3.20" height="1.40" fill="#000"/>
<rect x="632.30" y="316.32" width="6.00" height="1.35" fill="#000"/>
<rect x="634.62" y="314.00" width="1.35" height="6.00" fill="#000"/>
<rect x="653.65" y="314.60" width="3.20" height="1.40" fill="#000"/>
<rect x="672.25" y="316.32" width="6.00" height="1.35" fill="#000"/>
<rect x="674.58" y="314.00" width="1.35" height="6.00" fill="#000"/>
<text transform="translate(607.90 327.20) scale(1.05 1)" font-size="7.4" font-weight="bold" text-anchor="end" fill="#000">Abi</text>
<rect x="613.80" y="324.40" width="3.20" height="1.40" fill="#000"/>
<rect x="633.70" y="324.40" width="3.20" height="1.40" fill="#000"/>
<rect x="652.25" y="326.12" width="6.00" height="1.35" fill="#000"/>
<rect x="654.58" y="323.80" width="1.35" height="6.00" fill="#000"/>
<rect x="672.25" y="326.12" width="6.00" height="1.35" fill="#000"/>
<rect x="674.58" y="323.80" width="1.35" height="6.00" fill="#000"/>
<text transform="translate(3.20 373.70)" font-size="15.6" font-weight="bold" text-anchor="start" fill="#000">E</text>
<text transform="translate(116.90 370.90)" font-size="8.7" font-weight="bold" text-anchor="middle" fill="#000">LNCaP</text>
<line x1="59.45" y1="374.20" x2="169.15" y2="374.20" stroke="#000" stroke-width="1.1" stroke-linecap="butt"/>
<line x1="60.00" y1="374.20" x2="60.00" y2="379.00" stroke="#000" stroke-width="1.1" stroke-linecap="butt"/>
<line x1="78.60" y1="374.20" x2="78.60" y2="379.00" stroke="#000" stroke-width="1.1" stroke-linecap="butt"/>
<line x1="104.50" y1="374.20" x2="104.50" y2="379.00" stroke="#000" stroke-width="1.1" stroke-linecap="butt"/>
<line x1="123.40" y1="374.20" x2="123.40" y2="379.00" stroke="#000" stroke-width="1.1" stroke-linecap="butt"/>
<line x1="149.50" y1="374.20" x2="149.50" y2="379.00" stroke="#000" stroke-width="1.1" stroke-linecap="butt"/>
<line x1="168.60" y1="374.20" x2="168.60" y2="379.00" stroke="#000" stroke-width="1.1" stroke-linecap="butt"/>
<polygon points="73.45,381.75 74.21,383.55 76.16,383.72 74.69,385.00 75.13,386.91 73.45,385.90 71.77,386.91 72.21,385.00 70.74,383.72 72.69,383.55" fill="#000"/>
<polygon points="78.60,381.75 79.36,383.55 81.31,383.72 79.84,385.00 80.28,386.91 78.60,385.90 76.92,386.91 77.36,385.00 75.89,383.72 77.84,383.55" fill="#000"/>
<polygon points="83.75,381.75 84.51,383.55 86.46,383.72 84.99,385.00 85.43,386.91 83.75,385.90 82.07,386.91 82.51,385.00 81.04,383.72 82.99,383.55" fill="#000"/>
<polygon points="100.15,381.75 100.91,383.55 102.86,383.72 101.39,385.00 101.83,386.91 100.15,385.90 98.47,386.91 98.91,385.00 97.44,383.72 99.39,383.55" fill="#000"/>
<polygon points="105.30,381.75 106.06,383.55 108.01,383.72 106.54,385.00 106.98,386.91 105.30,385.90 103.62,386.91 104.06,385.00 102.59,383.72 104.54,383.55" fill="#000"/>
<polygon points="110.45,381.75 111.21,383.55 113.16,383.72 111.69,385.00 112.13,386.91 110.45,385.90 108.77,386.91 109.21,385.00 107.74,383.72 109.69,383.55" fill="#000"/>
<polygon points="119.85,381.75 120.61,383.55 122.56,383.72 121.09,385.00 121.53,386.91 119.85,385.90 118.17,386.91 118.61,385.00 117.14,383.72 119.09,383.55" fill="#000"/>
<polygon points="125.00,381.75 125.76,383.55 127.71,383.72 126.24,385.00 126.68,386.91 125.00,385.90 123.32,386.91 123.76,385.00 122.29,383.72 124.24,383.55" fill="#000"/>
<polygon points="130.15,381.75 130.91,383.55 132.86,383.72 131.39,385.00 131.83,386.91 130.15,385.90 128.47,386.91 128.91,385.00 127.44,383.72 129.39,383.55" fill="#000"/>
<polygon points="145.25,381.75 146.01,383.55 147.96,383.72 146.49,385.00 146.93,386.91 145.25,385.90 143.57,386.91 144.01,385.00 142.54,383.72 144.49,383.55" fill="#000"/>
<polygon points="150.40,381.75 151.16,383.55 153.11,383.72 151.64,385.00 152.08,386.91 150.40,385.90 148.72,386.91 149.16,385.00 147.69,383.72 149.64,383.55" fill="#000"/>
<polygon points="155.55,381.75 156.31,383.55 158.26,383.72 156.79,385.00 157.23,386.91 155.55,385.90 153.87,386.91 154.31,385.00 152.84,383.72 154.79,383.55" fill="#000"/>
<polygon points="164.75,381.75 165.51,383.55 167.46,383.72 165.99,385.00 166.43,386.91 164.75,385.90 163.07,386.91 163.51,385.00 162.04,383.72 163.99,383.55" fill="#000"/>
<polygon points="169.90,381.75 170.66,383.55 172.61,383.72 171.14,385.00 171.58,386.91 169.90,385.90 168.22,386.91 168.66,385.00 167.19,383.72 169.14,383.55" fill="#000"/>
<polygon points="175.05,381.75 175.81,383.55 177.76,383.72 176.29,385.00 176.73,386.91 175.05,385.90 173.37,386.91 173.81,385.00 172.34,383.72 174.29,383.55" fill="#000"/>
<line x1="104.30" y1="407.50" x2="122.80" y2="407.50" stroke="#000" stroke-width="1.1" stroke-linecap="butt"/>
<line x1="104.30" y1="405.40" x2="104.30" y2="409.60" stroke="#000" stroke-width="1.1" stroke-linecap="butt"/>
<line x1="122.80" y1="405.40" x2="122.80" y2="409.60" stroke="#000" stroke-width="1.1" stroke-linecap="butt"/>
<polygon points="108.85,400.15 109.61,401.95 111.56,402.12 110.09,403.40 110.53,405.31 108.85,404.30 107.17,405.31 107.61,403.40 106.14,402.12 108.09,401.95" fill="#000"/>
<polygon points="114.00,400.15 114.76,401.95 116.71,402.12 115.24,403.40 115.68,405.31 114.00,404.30 112.32,405.31 112.76,403.40 111.29,402.12 113.24,401.95" fill="#000"/>
<polygon points="119.15,400.15 119.91,401.95 121.86,402.12 120.39,403.40 120.83,405.31 119.15,404.30 117.47,405.31 117.91,403.40 116.44,402.12 118.39,401.95" fill="#000"/>
<line x1="149.50" y1="407.50" x2="168.50" y2="407.50" stroke="#000" stroke-width="1.1" stroke-linecap="butt"/>
<line x1="149.50" y1="405.40" x2="149.50" y2="409.60" stroke="#000" stroke-width="1.1" stroke-linecap="butt"/>
<line x1="168.50" y1="405.40" x2="168.50" y2="409.60" stroke="#000" stroke-width="1.1" stroke-linecap="butt"/>
<polygon points="154.05,400.15 154.81,401.95 156.76,402.12 155.29,403.40 155.73,405.31 154.05,404.30 152.37,405.31 152.81,403.40 151.34,402.12 153.29,401.95" fill="#000"/>
<polygon points="159.20,400.15 159.96,401.95 161.91,402.12 160.44,403.40 160.88,405.31 159.20,404.30 157.52,405.31 157.96,403.40 156.49,402.12 158.44,401.95" fill="#000"/>
<polygon points="164.35,400.15 165.11,401.95 167.06,402.12 165.59,403.40 166.03,405.31 164.35,404.30 162.67,405.31 163.11,403.40 161.64,402.12 163.59,401.95" fill="#000"/>
<line x1="60.35" y1="400.80" x2="60.35" y2="403.30" stroke="#000" stroke-width="1.1" stroke-linecap="butt"/>
<line x1="56.75" y1="400.80" x2="63.95" y2="400.80" stroke="#000" stroke-width="1.1" stroke-linecap="butt"/>
<rect x="53.80" y="403.30" width="13.10" height="67.80" fill="#000"/>
<line x1="79.25" y1="446.00" x2="79.25" y2="446.30" stroke="#000" stroke-width="1.1" stroke-linecap="butt"/>
<line x1="75.48" y1="446.00" x2="83.02" y2="446.00" stroke="#000" stroke-width="1.1" stroke-linecap="butt"/>
<rect x="72.40" y="446.30" width="13.70" height="24.80" fill="#000"/>
<line x1="104.85" y1="445.40" x2="104.85" y2="446.60" stroke="#000" stroke-width="1.1" stroke-linecap="butt"/>
<line x1="101.25" y1="445.40" x2="108.45" y2="445.40" stroke="#000" stroke-width="1.1" stroke-linecap="butt"/>
<rect x="98.80" y="447.10" width="12.10" height="24.50" fill="#558ed5" stroke="#000" stroke-width="1.0"/>
<line x1="123.85" y1="462.40" x2="123.85" y2="463.50" stroke="#000" stroke-width="1.1" stroke-linecap="butt"/>
<line x1="120.19" y1="462.40" x2="127.51" y2="462.40" stroke="#000" stroke-width="1.1" stroke-linecap="butt"/>
<rect x="117.70" y="464.00" width="12.30" height="7.60" fill="#558ed5" stroke="#000" stroke-width="1.0"/>
<line x1="149.05" y1="445.40" x2="149.05" y2="449.30" stroke="#000" stroke-width="1.1" stroke-linecap="butt"/>
<line x1="145.39" y1="445.40" x2="152.71" y2="445.40" stroke="#000" stroke-width="1.1" stroke-linecap="butt"/>
<rect x="142.90" y="449.80" width="12.30" height="21.80" fill="#c00000" stroke="#000" stroke-width="1.0"/>
<line x1="168.10" y1="463.50" x2="168.10" y2="464.40" stroke="#000" stroke-width="1.1" stroke-linecap="butt"/>
<line x1="164.47" y1="463.50" x2="171.73" y2="463.50" stroke="#000" stroke-width="1.1" stroke-linecap="butt"/>
<rect x="162.00" y="464.90" width="12.20" height="6.70" fill="#c00000" stroke="#000" stroke-width="1.0"/>
<line x1="51.10" y1="385.85" x2="51.10" y2="471.65" stroke="#000" stroke-width="1.1" stroke-linecap="butt"/>
<line x1="50.55" y1="471.10" x2="177.60" y2="471.10" stroke="#000" stroke-width="1.1" stroke-linecap="butt"/>
<line x1="48.50" y1="471.10" x2="51.10" y2="471.10" stroke="#000" stroke-width="1.1" stroke-linecap="butt"/>
<text transform="translate(46.00 473.75) scale(1.03 1)" font-size="7.4" font-weight="bold" text-anchor="end" fill="#000">0</text>
<line x1="48.50" y1="454.16" x2="51.10" y2="454.16" stroke="#000" stroke-width="1.1" stroke-linecap="butt"/>
<text transform="translate(46.00 456.81) scale(1.03 1)" font-size="7.4" font-weight="bold" text-anchor="end" fill="#000">25</text>
<line x1="48.50" y1="437.22" x2="51.10" y2="437.22" stroke="#000" stroke-width="1.1" stroke-linecap="butt"/>
<text transform="translate(46.00 439.87) scale(1.03 1)" font-size="7.4" font-weight="bold" text-anchor="end" fill="#000">50</text>
<line x1="48.50" y1="420.28" x2="51.10" y2="420.28" stroke="#000" stroke-width="1.1" stroke-linecap="butt"/>
<text transform="translate(46.00 422.93) scale(1.03 1)" font-size="7.4" font-weight="bold" text-anchor="end" fill="#000">75</text>
<line x1="48.50" y1="403.34" x2="51.10" y2="403.34" stroke="#000" stroke-width="1.1" stroke-linecap="butt"/>
<text transform="translate(46.00 405.99) scale(1.03 1)" font-size="7.4" font-weight="bold" text-anchor="end" fill="#000">100</text>
<line x1="48.50" y1="386.40" x2="51.10" y2="386.40" stroke="#000" stroke-width="1.1" stroke-linecap="butt"/>
<text transform="translate(46.00 389.05) scale(1.03 1)" font-size="7.4" font-weight="bold" text-anchor="end" fill="#000">125</text>
<line x1="60.35" y1="471.10" x2="60.35" y2="473.70" stroke="#000" stroke-width="1.1" stroke-linecap="butt"/>
<line x1="79.25" y1="471.10" x2="79.25" y2="473.70" stroke="#000" stroke-width="1.1" stroke-linecap="butt"/>
<line x1="104.85" y1="471.10" x2="104.85" y2="473.70" stroke="#000" stroke-width="1.1" stroke-linecap="butt"/>
<line x1="123.85" y1="471.10" x2="123.85" y2="473.70" stroke="#000" stroke-width="1.1" stroke-linecap="butt"/>
<line x1="149.05" y1="471.10" x2="149.05" y2="473.70" stroke="#000" stroke-width="1.1" stroke-linecap="butt"/>
<line x1="168.10" y1="471.10" x2="168.10" y2="473.70" stroke="#000" stroke-width="1.1" stroke-linecap="butt"/>
<text transform="translate(29.00 423.75) rotate(-90)" font-size="7.6" font-weight="bold" text-anchor="middle" fill="#000">cell number (%)</text>
<text transform="translate(47.00 485.40) scale(1.01 1)" font-size="7.4" font-weight="bold" text-anchor="end" fill="#000">Clor</text>
<rect x="58.75" y="482.40" width="3.20" height="1.40" fill="#000"/>
<rect x="76.25" y="482.62" width="6.00" height="1.35" fill="#000"/>
<rect x="78.58" y="480.30" width="1.35" height="6.00" fill="#000"/>
<rect x="103.25" y="482.40" width="3.20" height="1.40" fill="#000"/>
<rect x="120.85" y="482.62" width="6.00" height="1.35" fill="#000"/>
<rect x="123.17" y="480.30" width="1.35" height="6.00" fill="#000"/>
<rect x="147.45" y="482.40" width="3.20" height="1.40" fill="#000"/>
<rect x="165.10" y="482.62" width="6.00" height="1.35" fill="#000"/>
<rect x="167.42" y="480.30" width="1.35" height="6.00" fill="#000"/>
<text transform="translate(47.00 496.00) scale(1.01 1)" font-size="7.4" font-weight="bold" text-anchor="end" fill="#000">Doc</text>
<rect x="58.75" y="493.00" width="3.20" height="1.40" fill="#000"/>
<rect x="77.65" y="493.00" width="3.20" height="1.40" fill="#000"/>
<rect x="101.85" y="493.22" width="6.00" height="1.35" fill="#000"/>
<rect x="104.17" y="490.90" width="1.35" height="6.00" fill="#000"/>
<rect x="120.85" y="493.22" width="6.00" height="1.35" fill="#000"/>
<rect x="123.17" y="490.90" width="1.35" height="6.00" fill="#000"/>
<rect x="147.45" y="493.00" width="3.20" height="1.40" fill="#000"/>
<rect x="166.50" y="493.00" width="3.20" height="1.40" fill="#000"/>
<text transform="translate(47.00 505.80) scale(1.01 1)" font-size="7.4" font-weight="bold" text-anchor="end" fill="#000">Cab</text>
<rect x="58.75" y="502.80" width="3.20" height="1.40" fill="#000"/>
<rect x="77.65" y="502.80" width="3.20" height="1.40" fill="#000"/>
<rect x="103.25" y="502.80" width="3.20" height="1.40" fill="#000"/>
<rect x="122.25" y="502.80" width="3.20" height="1.40" fill="#000"/>
<rect x="146.05" y="503.02" width="6.00" height="1.35" fill="#000"/>
<rect x="148.38" y="500.70" width="1.35" height="6.00" fill="#000"/>
<rect x="165.10" y="503.02" width="6.00" height="1.35" fill="#000"/>
<rect x="167.42" y="500.70" width="1.35" height="6.00" fill="#000"/>
<text transform="translate(295.20 370.90)" font-size="8.7" font-weight="bold" text-anchor="middle" fill="#000">LNCaPabl</text>
<line x1="231.25" y1="374.20" x2="341.35" y2="374.20" stroke="#000" stroke-width="1.1" stroke-linecap="butt"/>
<line x1="231.80" y1="374.20" x2="231.80" y2="379.00" stroke="#000" stroke-width="1.1" stroke-linecap="butt"/>
<line x1="250.80" y1="374.20" x2="250.80" y2="379.00" stroke="#000" stroke-width="1.1" stroke-linecap="butt"/>
<line x1="276.50" y1="374.20" x2="276.50" y2="379.00" stroke="#000" stroke-width="1.1" stroke-linecap="butt"/>
<line x1="295.50" y1="374.20" x2="295.50" y2="379.00" stroke="#000" stroke-width="1.1" stroke-linecap="butt"/>
<line x1="321.60" y1="374.20" x2="321.60" y2="379.00" stroke="#000" stroke-width="1.1" stroke-linecap="butt"/>
<line x1="340.80" y1="374.20" x2="340.80" y2="379.00" stroke="#000" stroke-width="1.1" stroke-linecap="butt"/>
<polygon points="245.65,381.75 246.41,383.55 248.36,383.72 246.89,385.00 247.33,386.91 245.65,385.90 243.97,386.91 244.41,385.00 242.94,383.72 244.89,383.55" fill="#000"/>
<polygon points="250.80,381.75 251.56,383.55 253.51,383.72 252.04,385.00 252.48,386.91 250.80,385.90 249.12,386.91 249.56,385.00 248.09,383.72 250.04,383.55" fill="#000"/>
<polygon points="255.95,381.75 256.71,383.55 258.66,383.72 257.19,385.00 257.63,386.91 255.95,385.90 254.27,386.91 254.71,385.00 253.24,383.72 255.19,383.55" fill="#000"/>
<polygon points="271.45,381.75 272.21,383.55 274.16,383.72 272.69,385.00 273.13,386.91 271.45,385.90 269.77,386.91 270.21,385.00 268.74,383.72 270.69,383.55" fill="#000"/>
<polygon points="276.60,381.75 277.36,383.55 279.31,383.72 277.84,385.00 278.28,386.91 276.60,385.90 274.92,386.91 275.36,385.00 273.89,383.72 275.84,383.55" fill="#000"/>
<polygon points="281.75,381.75 282.51,383.55 284.46,383.72 282.99,385.00 283.43,386.91 281.75,385.90 280.07,386.91 280.51,385.00 279.04,383.72 280.99,383.55" fill="#000"/>
<polygon points="291.25,381.75 292.01,383.55 293.96,383.72 292.49,385.00 292.93,386.91 291.25,385.90 289.57,386.91 290.01,385.00 288.54,383.72 290.49,383.55" fill="#000"/>
<polygon points="296.40,381.75 297.16,383.55 299.11,383.72 297.64,385.00 298.08,386.91 296.40,385.90 294.72,386.91 295.16,385.00 293.69,383.72 295.64,383.55" fill="#000"/>
<polygon points="301.55,381.75 302.31,383.55 304.26,383.72 302.79,385.00 303.23,386.91 301.55,385.90 299.87,386.91 300.31,385.00 298.84,383.72 300.79,383.55" fill="#000"/>
<polygon points="316.95,381.75 317.71,383.55 319.66,383.72 318.19,385.00 318.63,386.91 316.95,385.90 315.27,386.91 315.71,385.00 314.24,383.72 316.19,383.55" fill="#000"/>
<polygon points="322.10,381.75 322.86,383.55 324.81,383.72 323.34,385.00 323.78,386.91 322.10,385.90 320.42,386.91 320.86,385.00 319.39,383.72 321.34,383.55" fill="#000"/>
<polygon points="327.25,381.75 328.01,383.55 329.96,383.72 328.49,385.00 328.93,386.91 327.25,385.90 325.57,386.91 326.01,385.00 324.54,383.72 326.49,383.55" fill="#000"/>
<polygon points="336.55,381.75 337.31,383.55 339.26,383.72 337.79,385.00 338.23,386.91 336.55,385.90 334.87,386.91 335.31,385.00 333.84,383.72 335.79,383.55" fill="#000"/>
<polygon points="341.70,381.75 342.46,383.55 344.41,383.72 342.94,385.00 343.38,386.91 341.70,385.90 340.02,386.91 340.46,385.00 338.99,383.72 340.94,383.55" fill="#000"/>
<polygon points="346.85,381.75 347.61,383.55 349.56,383.72 348.09,385.00 348.53,386.91 346.85,385.90 345.17,386.91 345.61,385.00 344.14,383.72 346.09,383.55" fill="#000"/>
<line x1="276.50" y1="407.40" x2="295.50" y2="407.40" stroke="#000" stroke-width="1.1" stroke-linecap="butt"/>
<line x1="276.50" y1="405.30" x2="276.50" y2="409.50" stroke="#000" stroke-width="1.1" stroke-linecap="butt"/>
<line x1="295.50" y1="405.30" x2="295.50" y2="409.50" stroke="#000" stroke-width="1.1" stroke-linecap="butt"/>
<polygon points="286.60,400.05 287.36,401.85 289.31,402.02 287.84,403.30 288.28,405.21 286.60,404.20 284.92,405.21 285.36,403.30 283.89,402.02 285.84,401.85" fill="#000"/>
<line x1="321.60" y1="407.40" x2="340.80" y2="407.40" stroke="#000" stroke-width="1.1" stroke-linecap="butt"/>
<line x1="321.60" y1="405.30" x2="321.60" y2="409.50" stroke="#000" stroke-width="1.1" stroke-linecap="butt"/>
<line x1="340.80" y1="405.30" x2="340.80" y2="409.50" stroke="#000" stroke-width="1.1" stroke-linecap="butt"/>
<polygon points="331.90,400.05 332.66,401.85 334.61,402.02 333.14,403.30 333.58,405.21 331.90,404.20 330.22,405.21 330.66,403.30 329.19,402.02 331.14,401.85" fill="#000"/>
<line x1="231.05" y1="402.40" x2="231.05" y2="404.40" stroke="#000" stroke-width="1.1" stroke-linecap="butt"/>
<line x1="227.39" y1="402.40" x2="234.71" y2="402.40" stroke="#000" stroke-width="1.1" stroke-linecap="butt"/>
<rect x="224.40" y="404.40" width="13.30" height="67.10" fill="#000"/>
<line x1="250.00" y1="416.80" x2="250.00" y2="420.60" stroke="#000" stroke-width="1.1" stroke-linecap="butt"/>
<line x1="246.31" y1="416.80" x2="253.69" y2="416.80" stroke="#000" stroke-width="1.1" stroke-linecap="butt"/>
<rect x="243.30" y="420.60" width="13.40" height="50.90" fill="#000"/>
<line x1="275.10" y1="439.50" x2="275.10" y2="442.20" stroke="#000" stroke-width="1.1" stroke-linecap="butt"/>
<line x1="271.53" y1="439.50" x2="278.68" y2="439.50" stroke="#000" stroke-width="1.1" stroke-linecap="butt"/>
<rect x="269.10" y="442.70" width="12.00" height="29.30" fill="#558ed5" stroke="#000" stroke-width="1.0"/>
<line x1="293.85" y1="450.40" x2="293.85" y2="452.50" stroke="#000" stroke-width="1.1" stroke-linecap="butt"/>
<line x1="290.19" y1="450.40" x2="297.51" y2="450.40" stroke="#000" stroke-width="1.1" stroke-linecap="butt"/>
<rect x="287.70" y="453.00" width="12.30" height="19.00" fill="#558ed5" stroke="#000" stroke-width="1.0"/>
<line x1="319.05" y1="442.40" x2="319.05" y2="444.20" stroke="#000" stroke-width="1.1" stroke-linecap="butt"/>
<line x1="315.39" y1="442.40" x2="322.71" y2="442.40" stroke="#000" stroke-width="1.1" stroke-linecap="butt"/>
<rect x="312.90" y="444.70" width="12.30" height="27.30" fill="#c00000" stroke="#000" stroke-width="1.0"/>
<line x1="338.10" y1="453.40" x2="338.10" y2="454.30" stroke="#000" stroke-width="1.1" stroke-linecap="butt"/>
<line x1="334.47" y1="453.40" x2="341.73" y2="453.40" stroke="#000" stroke-width="1.1" stroke-linecap="butt"/>
<rect x="332.00" y="454.80" width="12.20" height="17.20" fill="#c00000" stroke="#000" stroke-width="1.0"/>
<line x1="221.50" y1="387.25" x2="221.50" y2="472.05" stroke="#000" stroke-width="1.1" stroke-linecap="butt"/>
<line x1="220.95" y1="471.50" x2="347.10" y2="471.50" stroke="#000" stroke-width="1.1" stroke-linecap="butt"/>
<line x1="218.90" y1="471.50" x2="221.50" y2="471.50" stroke="#000" stroke-width="1.1" stroke-linecap="butt"/>
<text transform="translate(217.30 474.15) scale(1.03 1)" font-size="7.4" font-weight="bold" text-anchor="end" fill="#000">0</text>
<line x1="218.90" y1="454.76" x2="221.50" y2="454.76" stroke="#000" stroke-width="1.1" stroke-linecap="butt"/>
<text transform="translate(217.30 457.41) scale(1.03 1)" font-size="7.4" font-weight="bold" text-anchor="end" fill="#000">25</text>
<line x1="218.90" y1="438.02" x2="221.50" y2="438.02" stroke="#000" stroke-width="1.1" stroke-linecap="butt"/>
<text transform="translate(217.30 440.67) scale(1.03 1)" font-size="7.4" font-weight="bold" text-anchor="end" fill="#000">50</text>
<line x1="218.90" y1="421.28" x2="221.50" y2="421.28" stroke="#000" stroke-width="1.1" stroke-linecap="butt"/>
<text transform="translate(217.30 423.93) scale(1.03 1)" font-size="7.4" font-weight="bold" text-anchor="end" fill="#000">75</text>
<line x1="218.90" y1="404.54" x2="221.50" y2="404.54" stroke="#000" stroke-width="1.1" stroke-linecap="butt"/>
<text transform="translate(217.30 407.19) scale(1.03 1)" font-size="7.4" font-weight="bold" text-anchor="end" fill="#000">100</text>
<line x1="218.90" y1="387.80" x2="221.50" y2="387.80" stroke="#000" stroke-width="1.1" stroke-linecap="butt"/>
<text transform="translate(217.30 390.45) scale(1.03 1)" font-size="7.4" font-weight="bold" text-anchor="end" fill="#000">125</text>
<line x1="231.05" y1="471.50" x2="231.05" y2="474.10" stroke="#000" stroke-width="1.1" stroke-linecap="butt"/>
<line x1="250.00" y1="471.50" x2="250.00" y2="474.10" stroke="#000" stroke-width="1.1" stroke-linecap="butt"/>
<line x1="275.10" y1="471.50" x2="275.10" y2="474.10" stroke="#000" stroke-width="1.1" stroke-linecap="butt"/>
<line x1="293.85" y1="471.50" x2="293.85" y2="474.10" stroke="#000" stroke-width="1.1" stroke-linecap="butt"/>
<line x1="319.05" y1="471.50" x2="319.05" y2="474.10" stroke="#000" stroke-width="1.1" stroke-linecap="butt"/>
<line x1="338.10" y1="471.50" x2="338.10" y2="474.10" stroke="#000" stroke-width="1.1" stroke-linecap="butt"/>
<text transform="translate(201.00 424.65) rotate(-90)" font-size="7.6" font-weight="bold" text-anchor="middle" fill="#000">cell number (%)</text>
<text transform="translate(218.10 485.40) scale(1.01 1)" font-size="7.4" font-weight="bold" text-anchor="end" fill="#000">Clor</text>
<rect x="229.45" y="482.40" width="3.20" height="1.40" fill="#000"/>
<rect x="247.00" y="482.62" width="6.00" height="1.35" fill="#000"/>
<rect x="249.32" y="480.30" width="1.35" height="6.00" fill="#000"/>
<rect x="273.50" y="482.40" width="3.20" height="1.40" fill="#000"/>
<rect x="290.85" y="482.62" width="6.00" height="1.35" fill="#000"/>
<rect x="293.18" y="480.30" width="1.35" height="6.00" fill="#000"/>
<rect x="317.45" y="482.40" width="3.20" height="1.40" fill="#000"/>
<rect x="335.10" y="482.62" width="6.00" height="1.35" fill="#000"/>
<rect x="337.43" y="480.30" width="1.35" height="6.00" fill="#000"/>
<text transform="translate(218.10 496.00) scale(1.01 1)" font-size="7.4" font-weight="bold" text-anchor="end" fill="#000">Doc</text>
<rect x="229.45" y="493.00" width="3.20" height="1.40" fill="#000"/>
<rect x="248.40" y="493.00" width="3.20" height="1.40" fill="#000"/>
<rect x="272.10" y="493.22" width="6.00" height="1.35" fill="#000"/>
<rect x="274.43" y="490.90" width="1.35" height="6.00" fill="#000"/>
<rect x="290.85" y="493.22" width="6.00" height="1.35" fill="#000"/>
<rect x="293.18" y="490.90" width="1.35" height="6.00" fill="#000"/>
<rect x="317.45" y="493.00" width="3.20" height="1.40" fill="#000"/>
<rect x="336.50" y="493.00" width="3.20" height="1.40" fill="#000"/>
<text transform="translate(218.10 505.80) scale(1.01 1)" font-size="7.4" font-weight="bold" text-anchor="end" fill="#000">Cab</text>
<rect x="229.45" y="502.80" width="3.20" height="1.40" fill="#000"/>
<rect x="248.40" y="502.80" width="3.20" height="1.40" fill="#000"/>
<rect x="273.50" y="502.80" width="3.20" height="1.40" fill="#000"/>
<rect x="292.25" y="502.80" width="3.20" height="1.40" fill="#000"/>
<rect x="316.05" y="503.02" width="6.00" height="1.35" fill="#000"/>
<rect x="318.37" y="500.70" width="1.35" height="6.00" fill="#000"/>
<rect x="335.10" y="503.02" width="6.00" height="1.35" fill="#000"/>
<rect x="337.43" y="500.70" width="1.35" height="6.00" fill="#000"/>
<text transform="translate(457.80 370.90)" font-size="8.7" font-weight="bold" text-anchor="middle" fill="#000">abl-Enza</text>
<line x1="400.95" y1="374.50" x2="510.45" y2="374.50" stroke="#000" stroke-width="1.1" stroke-linecap="butt"/>
<line x1="401.50" y1="374.50" x2="401.50" y2="379.30" stroke="#000" stroke-width="1.1" stroke-linecap="butt"/>
<line x1="419.60" y1="374.50" x2="419.60" y2="379.30" stroke="#000" stroke-width="1.1" stroke-linecap="butt"/>
<line x1="445.70" y1="374.50" x2="445.70" y2="379.30" stroke="#000" stroke-width="1.1" stroke-linecap="butt"/>
<line x1="464.60" y1="374.50" x2="464.60" y2="379.30" stroke="#000" stroke-width="1.1" stroke-linecap="butt"/>
<line x1="490.70" y1="374.50" x2="490.70" y2="379.30" stroke="#000" stroke-width="1.1" stroke-linecap="butt"/>
<line x1="509.90" y1="374.50" x2="509.90" y2="379.30" stroke="#000" stroke-width="1.1" stroke-linecap="butt"/>
<polygon points="419.12,382.35 419.89,384.15 421.84,384.32 420.36,385.60 420.80,387.51 419.12,386.50 417.45,387.51 417.89,385.60 416.41,384.32 418.36,384.15" fill="#000"/>
<polygon points="424.27,382.35 425.04,384.15 426.99,384.32 425.51,385.60 425.95,387.51 424.27,386.50 422.60,387.51 423.04,385.60 421.56,384.32 423.51,384.15" fill="#000"/>
<polygon points="441.05,382.35 441.81,384.15 443.76,384.32 442.29,385.60 442.73,387.51 441.05,386.50 439.37,387.51 439.81,385.60 438.34,384.32 440.29,384.15" fill="#000"/>
<polygon points="446.20,382.35 446.96,384.15 448.91,384.32 447.44,385.60 447.88,387.51 446.20,386.50 444.52,387.51 444.96,385.60 443.49,384.32 445.44,384.15" fill="#000"/>
<polygon points="451.35,382.35 452.11,384.15 454.06,384.32 452.59,385.60 453.03,387.51 451.35,386.50 449.67,387.51 450.11,385.60 448.64,384.32 450.59,384.15" fill="#000"/>
<polygon points="460.85,382.35 461.61,384.15 463.56,384.32 462.09,385.60 462.53,387.51 460.85,386.50 459.17,387.51 459.61,385.60 458.14,384.32 460.09,384.15" fill="#000"/>
<polygon points="466.00,382.35 466.76,384.15 468.71,384.32 467.24,385.60 467.68,387.51 466.00,386.50 464.32,387.51 464.76,385.60 463.29,384.32 465.24,384.15" fill="#000"/>
<polygon points="471.15,382.35 471.91,384.15 473.86,384.32 472.39,385.60 472.83,387.51 471.15,386.50 469.47,387.51 469.91,385.60 468.44,384.32 470.39,384.15" fill="#000"/>
<polygon points="486.45,382.35 487.21,384.15 489.16,384.32 487.69,385.60 488.13,387.51 486.45,386.50 484.77,387.51 485.21,385.60 483.74,384.32 485.69,384.15" fill="#000"/>
<polygon points="491.60,382.35 492.36,384.15 494.31,384.32 492.84,385.60 493.28,387.51 491.60,386.50 489.92,387.51 490.36,385.60 488.89,384.32 490.84,384.15" fill="#000"/>
<polygon points="496.75,382.35 497.51,384.15 499.46,384.32 497.99,385.60 498.43,387.51 496.75,386.50 495.07,387.51 495.51,385.60 494.04,384.32 495.99,384.15" fill="#000"/>
<polygon points="505.95,382.35 506.71,384.15 508.66,384.32 507.19,385.60 507.63,387.51 505.95,386.50 504.27,387.51 504.71,385.60 503.24,384.32 505.19,384.15" fill="#000"/>
<polygon points="511.10,382.35 511.86,384.15 513.81,384.32 512.34,385.60 512.78,387.51 511.10,386.50 509.42,387.51 509.86,385.60 508.39,384.32 510.34,384.15" fill="#000"/>
<polygon points="516.25,382.35 517.01,384.15 518.96,384.32 517.49,385.60 517.93,387.51 516.25,386.50 514.57,387.51 515.01,385.60 513.54,384.32 515.49,384.15" fill="#000"/>
<line x1="445.70" y1="406.80" x2="464.60" y2="406.80" stroke="#000" stroke-width="1.1" stroke-linecap="butt"/>
<line x1="445.70" y1="404.70" x2="445.70" y2="408.90" stroke="#000" stroke-width="1.1" stroke-linecap="butt"/>
<line x1="464.60" y1="404.70" x2="464.60" y2="408.90" stroke="#000" stroke-width="1.1" stroke-linecap="butt"/>
<polygon points="456.10,399.55 456.86,401.35 458.81,401.52 457.34,402.80 457.78,404.71 456.10,403.70 454.42,404.71 454.86,402.80 453.39,401.52 455.34,401.35" fill="#000"/>
<line x1="490.70" y1="406.80" x2="509.50" y2="406.80" stroke="#000" stroke-width="1.1" stroke-linecap="butt"/>
<line x1="490.70" y1="404.70" x2="490.70" y2="408.90" stroke="#000" stroke-width="1.1" stroke-linecap="butt"/>
<line x1="509.50" y1="404.70" x2="509.50" y2="408.90" stroke="#000" stroke-width="1.1" stroke-linecap="butt"/>
<polygon points="501.50,399.55 502.26,401.35 504.21,401.52 502.74,402.80 503.18,404.71 501.50,403.70 499.82,404.71 500.26,402.80 498.79,401.52 500.74,401.35" fill="#000"/>
<line x1="401.05" y1="402.40" x2="401.05" y2="404.40" stroke="#000" stroke-width="1.1" stroke-linecap="butt"/>
<line x1="397.39" y1="402.40" x2="404.71" y2="402.40" stroke="#000" stroke-width="1.1" stroke-linecap="butt"/>
<rect x="394.40" y="404.40" width="13.30" height="67.10" fill="#000"/>
<line x1="419.85" y1="417.10" x2="419.85" y2="419.70" stroke="#000" stroke-width="1.1" stroke-linecap="butt"/>
<line x1="416.08" y1="417.10" x2="423.62" y2="417.10" stroke="#000" stroke-width="1.1" stroke-linecap="butt"/>
<rect x="413.00" y="419.70" width="13.70" height="51.80" fill="#000"/>
<line x1="445.10" y1="438.70" x2="445.10" y2="441.00" stroke="#000" stroke-width="1.1" stroke-linecap="butt"/>
<line x1="441.53" y1="438.70" x2="448.68" y2="438.70" stroke="#000" stroke-width="1.1" stroke-linecap="butt"/>
<rect x="439.10" y="441.50" width="12.00" height="30.50" fill="#558ed5" stroke="#000" stroke-width="1.0"/>
<line x1="463.75" y1="450.20" x2="463.75" y2="452.50" stroke="#000" stroke-width="1.1" stroke-linecap="butt"/>
<line x1="460.15" y1="450.20" x2="467.35" y2="450.20" stroke="#000" stroke-width="1.1" stroke-linecap="butt"/>
<rect x="457.70" y="453.00" width="12.10" height="19.00" fill="#558ed5" stroke="#000" stroke-width="1.0"/>
<line x1="489.20" y1="436.20" x2="489.20" y2="440.10" stroke="#000" stroke-width="1.1" stroke-linecap="butt"/>
<line x1="485.62" y1="436.20" x2="492.77" y2="436.20" stroke="#000" stroke-width="1.1" stroke-linecap="butt"/>
<rect x="483.20" y="440.60" width="12.00" height="31.40" fill="#c00000" stroke="#000" stroke-width="1.0"/>
<line x1="508.10" y1="449.50" x2="508.10" y2="451.30" stroke="#000" stroke-width="1.1" stroke-linecap="butt"/>
<line x1="504.47" y1="449.50" x2="511.73" y2="449.50" stroke="#000" stroke-width="1.1" stroke-linecap="butt"/>
<rect x="502.00" y="451.80" width="12.20" height="20.20" fill="#c00000" stroke="#000" stroke-width="1.0"/>
<line x1="391.50" y1="387.25" x2="391.50" y2="472.05" stroke="#000" stroke-width="1.1" stroke-linecap="butt"/>
<line x1="390.95" y1="471.50" x2="517.10" y2="471.50" stroke="#000" stroke-width="1.1" stroke-linecap="butt"/>
<line x1="388.90" y1="471.50" x2="391.50" y2="471.50" stroke="#000" stroke-width="1.1" stroke-linecap="butt"/>
<text transform="translate(387.30 474.15) scale(1.03 1)" font-size="7.4" font-weight="bold" text-anchor="end" fill="#000">0</text>
<line x1="388.90" y1="454.76" x2="391.50" y2="454.76" stroke="#000" stroke-width="1.1" stroke-linecap="butt"/>
<text transform="translate(387.30 457.41) scale(1.03 1)" font-size="7.4" font-weight="bold" text-anchor="end" fill="#000">25</text>
<line x1="388.90" y1="438.02" x2="391.50" y2="438.02" stroke="#000" stroke-width="1.1" stroke-linecap="butt"/>
<text transform="translate(387.30 440.67) scale(1.03 1)" font-size="7.4" font-weight="bold" text-anchor="end" fill="#000">50</text>
<line x1="388.90" y1="421.28" x2="391.50" y2="421.28" stroke="#000" stroke-width="1.1" stroke-linecap="butt"/>
<text transform="translate(387.30 423.93) scale(1.03 1)" font-size="7.4" font-weight="bold" text-anchor="end" fill="#000">75</text>
<line x1="388.90" y1="404.54" x2="391.50" y2="404.54" stroke="#000" stroke-width="1.1" stroke-linecap="butt"/>
<text transform="translate(387.30 407.19) scale(1.03 1)" font-size="7.4" font-weight="bold" text-anchor="end" fill="#000">100</text>
<line x1="388.90" y1="387.80" x2="391.50" y2="387.80" stroke="#000" stroke-width="1.1" stroke-linecap="butt"/>
<text transform="translate(387.30 390.45) scale(1.03 1)" font-size="7.4" font-weight="bold" text-anchor="end" fill="#000">125</text>
<line x1="401.05" y1="471.50" x2="401.05" y2="474.10" stroke="#000" stroke-width="1.1" stroke-linecap="butt"/>
<line x1="419.85" y1="471.50" x2="419.85" y2="474.10" stroke="#000" stroke-width="1.1" stroke-linecap="butt"/>
<line x1="445.10" y1="471.50" x2="445.10" y2="474.10" stroke="#000" stroke-width="1.1" stroke-linecap="butt"/>
<line x1="463.75" y1="471.50" x2="463.75" y2="474.10" stroke="#000" stroke-width="1.1" stroke-linecap="butt"/>
<line x1="489.20" y1="471.50" x2="489.20" y2="474.10" stroke="#000" stroke-width="1.1" stroke-linecap="butt"/>
<line x1="508.10" y1="471.50" x2="508.10" y2="474.10" stroke="#000" stroke-width="1.1" stroke-linecap="butt"/>
<text transform="translate(371.00 424.65) rotate(-90)" font-size="7.6" font-weight="bold" text-anchor="middle" fill="#000">cell number (%)</text>
<text transform="translate(385.50 485.40) scale(1.01 1)" font-size="7.4" font-weight="bold" text-anchor="end" fill="#000">Clor</text>
<rect x="399.45" y="482.40" width="3.20" height="1.40" fill="#000"/>
<rect x="416.85" y="482.62" width="6.00" height="1.35" fill="#000"/>
<rect x="419.18" y="480.30" width="1.35" height="6.00" fill="#000"/>
<rect x="443.50" y="482.40" width="3.20" height="1.40" fill="#000"/>
<rect x="460.75" y="482.62" width="6.00" height="1.35" fill="#000"/>
<rect x="463.07" y="480.30" width="1.35" height="6.00" fill="#000"/>
<rect x="487.60" y="482.40" width="3.20" height="1.40" fill="#000"/>
<rect x="505.10" y="482.62" width="6.00" height="1.35" fill="#000"/>
<rect x="507.43" y="480.30" width="1.35" height="6.00" fill="#000"/>
<text transform="translate(385.50 496.00) scale(1.01 1)" font-size="7.4" font-weight="bold" text-anchor="end" fill="#000">Doc</text>
<rect x="399.45" y="493.00" width="3.20" height="1.40" fill="#000"/>
<rect x="418.25" y="493.00" width="3.20" height="1.40" fill="#000"/>
<rect x="442.10" y="493.22" width="6.00" height="1.35" fill="#000"/>
<rect x="444.43" y="490.90" width="1.35" height="6.00" fill="#000"/>
<rect x="460.75" y="493.22" width="6.00" height="1.35" fill="#000"/>
<rect x="463.07" y="490.90" width="1.35" height="6.00" fill="#000"/>
<rect x="487.60" y="493.00" width="3.20" height="1.40" fill="#000"/>
<rect x="506.50" y="493.00" width="3.20" height="1.40" fill="#000"/>
<text transform="translate(385.50 505.80) scale(1.01 1)" font-size="7.4" font-weight="bold" text-anchor="end" fill="#000">Cab</text>
<rect x="399.45" y="502.80" width="3.20" height="1.40" fill="#000"/>
<rect x="418.25" y="502.80" width="3.20" height="1.40" fill="#000"/>
<rect x="443.50" y="502.80" width="3.20" height="1.40" fill="#000"/>
<rect x="462.15" y="502.80" width="3.20" height="1.40" fill="#000"/>
<rect x="486.20" y="503.02" width="6.00" height="1.35" fill="#000"/>
<rect x="488.52" y="500.70" width="1.35" height="6.00" fill="#000"/>
<rect x="505.10" y="503.02" width="6.00" height="1.35" fill="#000"/>
<rect x="507.43" y="500.70" width="1.35" height="6.00" fill="#000"/>
<text transform="translate(624.30 370.90)" font-size="8.7" font-weight="bold" text-anchor="middle" fill="#000">abl-Abi</text>
<line x1="566.75" y1="373.30" x2="676.55" y2="373.30" stroke="#000" stroke-width="1.1" stroke-linecap="butt"/>
<line x1="567.30" y1="373.30" x2="567.30" y2="378.10" stroke="#000" stroke-width="1.1" stroke-linecap="butt"/>
<line x1="585.90" y1="373.30" x2="585.90" y2="378.10" stroke="#000" stroke-width="1.1" stroke-linecap="butt"/>
<line x1="611.70" y1="373.30" x2="611.70" y2="378.10" stroke="#000" stroke-width="1.1" stroke-linecap="butt"/>
<line x1="630.70" y1="373.30" x2="630.70" y2="378.10" stroke="#000" stroke-width="1.1" stroke-linecap="butt"/>
<line x1="656.80" y1="373.30" x2="656.80" y2="378.10" stroke="#000" stroke-width="1.1" stroke-linecap="butt"/>
<line x1="676.00" y1="373.30" x2="676.00" y2="378.10" stroke="#000" stroke-width="1.1" stroke-linecap="butt"/>
<polygon points="580.75,380.95 581.51,382.75 583.46,382.92 581.99,384.20 582.43,386.11 580.75,385.10 579.07,386.11 579.51,384.20 578.04,382.92 579.99,382.75" fill="#000"/>
<polygon points="585.90,380.95 586.66,382.75 588.61,382.92 587.14,384.20 587.58,386.11 585.90,385.10 584.22,386.11 584.66,384.20 583.19,382.92 585.14,382.75" fill="#000"/>
<polygon points="591.05,380.95 591.81,382.75 593.76,382.92 592.29,384.20 592.73,386.11 591.05,385.10 589.37,386.11 589.81,384.20 588.34,382.92 590.29,382.75" fill="#000"/>
<polygon points="607.45,380.95 608.21,382.75 610.16,382.92 608.69,384.20 609.13,386.11 607.45,385.10 605.77,386.11 606.21,384.20 604.74,382.92 606.69,382.75" fill="#000"/>
<polygon points="612.60,380.95 613.36,382.75 615.31,382.92 613.84,384.20 614.28,386.11 612.60,385.10 610.92,386.11 611.36,384.20 609.89,382.92 611.84,382.75" fill="#000"/>
<polygon points="617.75,380.95 618.51,382.75 620.46,382.92 618.99,384.20 619.43,386.11 617.75,385.10 616.07,386.11 616.51,384.20 615.04,382.92 616.99,382.75" fill="#000"/>
<polygon points="627.35,380.95 628.11,382.75 630.06,382.92 628.59,384.20 629.03,386.11 627.35,385.10 625.67,386.11 626.11,384.20 624.64,382.92 626.59,382.75" fill="#000"/>
<polygon points="632.50,380.95 633.26,382.75 635.21,382.92 633.74,384.20 634.18,386.11 632.50,385.10 630.82,386.11 631.26,384.20 629.79,382.92 631.74,382.75" fill="#000"/>
<polygon points="637.65,380.95 638.41,382.75 640.36,382.92 638.89,384.20 639.33,386.11 637.65,385.10 635.97,386.11 636.41,384.20 634.94,382.92 636.89,382.75" fill="#000"/>
<polygon points="652.65,380.95 653.41,382.75 655.36,382.92 653.89,384.20 654.33,386.11 652.65,385.10 650.97,386.11 651.41,384.20 649.94,382.92 651.89,382.75" fill="#000"/>
<polygon points="657.80,380.95 658.56,382.75 660.51,382.92 659.04,384.20 659.48,386.11 657.80,385.10 656.12,386.11 656.56,384.20 655.09,382.92 657.04,382.75" fill="#000"/>
<polygon points="662.95,380.95 663.71,382.75 665.66,382.92 664.19,384.20 664.63,386.11 662.95,385.10 661.27,386.11 661.71,384.20 660.24,382.92 662.19,382.75" fill="#000"/>
<polygon points="672.05,380.95 672.81,382.75 674.76,382.92 673.29,384.20 673.73,386.11 672.05,385.10 670.37,386.11 670.81,384.20 669.34,382.92 671.29,382.75" fill="#000"/>
<polygon points="677.20,380.95 677.96,382.75 679.91,382.92 678.44,384.20 678.88,386.11 677.20,385.10 675.52,386.11 675.96,384.20 674.49,382.92 676.44,382.75" fill="#000"/>
<polygon points="682.35,380.95 683.11,382.75 685.06,382.92 683.59,384.20 684.03,386.11 682.35,385.10 680.67,386.11 681.11,384.20 679.64,382.92 681.59,382.75" fill="#000"/>
<line x1="611.70" y1="406.50" x2="630.70" y2="406.50" stroke="#000" stroke-width="1.1" stroke-linecap="butt"/>
<line x1="611.70" y1="404.40" x2="611.70" y2="408.60" stroke="#000" stroke-width="1.1" stroke-linecap="butt"/>
<line x1="630.70" y1="404.40" x2="630.70" y2="408.60" stroke="#000" stroke-width="1.1" stroke-linecap="butt"/>
<polygon points="615.75,398.85 616.51,400.65 618.46,400.82 616.99,402.10 617.43,404.01 615.75,403.00 614.07,404.01 614.51,402.10 613.04,400.82 614.99,400.65" fill="#000"/>
<polygon points="620.90,398.85 621.66,400.65 623.61,400.82 622.14,402.10 622.58,404.01 620.90,403.00 619.22,404.01 619.66,402.10 618.19,400.82 620.14,400.65" fill="#000"/>
<polygon points="626.05,398.85 626.81,400.65 628.76,400.82 627.29,402.10 627.73,404.01 626.05,403.00 624.37,404.01 624.81,402.10 623.34,400.82 625.29,400.65" fill="#000"/>
<line x1="656.80" y1="406.50" x2="676.00" y2="406.50" stroke="#000" stroke-width="1.1" stroke-linecap="butt"/>
<line x1="656.80" y1="404.40" x2="656.80" y2="408.60" stroke="#000" stroke-width="1.1" stroke-linecap="butt"/>
<line x1="676.00" y1="404.40" x2="676.00" y2="408.60" stroke="#000" stroke-width="1.1" stroke-linecap="butt"/>
<polygon points="667.10,398.85 667.86,400.65 669.81,400.82 668.34,402.10 668.78,404.01 667.10,403.00 665.42,404.01 665.86,402.10 664.39,400.82 666.34,400.65" fill="#000"/>
<line x1="567.45" y1="404.20" x2="567.45" y2="405.60" stroke="#000" stroke-width="1.1" stroke-linecap="butt"/>
<line x1="563.90" y1="404.20" x2="571.00" y2="404.20" stroke="#000" stroke-width="1.1" stroke-linecap="butt"/>
<rect x="561.00" y="405.60" width="12.90" height="65.50" fill="#000"/>
<line x1="586.15" y1="419.70" x2="586.15" y2="420.60" stroke="#000" stroke-width="1.1" stroke-linecap="butt"/>
<line x1="582.55" y1="419.70" x2="589.75" y2="419.70" stroke="#000" stroke-width="1.1" stroke-linecap="butt"/>
<rect x="579.60" y="420.60" width="13.10" height="50.50" fill="#000"/>
<line x1="611.15" y1="423.60" x2="611.15" y2="427.30" stroke="#000" stroke-width="1.1" stroke-linecap="butt"/>
<line x1="607.55" y1="423.60" x2="614.75" y2="423.60" stroke="#000" stroke-width="1.1" stroke-linecap="butt"/>
<rect x="605.10" y="427.80" width="12.10" height="43.80" fill="#558ed5" stroke="#000" stroke-width="1.0"/>
<line x1="630.00" y1="441.50" x2="630.00" y2="443.30" stroke="#000" stroke-width="1.1" stroke-linecap="butt"/>
<line x1="626.48" y1="441.50" x2="633.52" y2="441.50" stroke="#000" stroke-width="1.1" stroke-linecap="butt"/>
<rect x="624.10" y="443.80" width="11.80" height="27.80" fill="#558ed5" stroke="#000" stroke-width="1.0"/>
<line x1="654.50" y1="443.60" x2="654.50" y2="444.50" stroke="#000" stroke-width="1.1" stroke-linecap="butt"/>
<line x1="650.98" y1="443.60" x2="658.02" y2="443.60" stroke="#000" stroke-width="1.1" stroke-linecap="butt"/>
<rect x="648.60" y="445.00" width="11.80" height="26.60" fill="#c00000" stroke="#000" stroke-width="1.0"/>
<line x1="673.00" y1="453.40" x2="673.00" y2="454.60" stroke="#000" stroke-width="1.1" stroke-linecap="butt"/>
<line x1="669.42" y1="453.40" x2="676.58" y2="453.40" stroke="#000" stroke-width="1.1" stroke-linecap="butt"/>
<rect x="667.00" y="455.10" width="12.00" height="16.50" fill="#c00000" stroke="#000" stroke-width="1.0"/>
<line x1="557.90" y1="388.55" x2="557.90" y2="471.65" stroke="#000" stroke-width="1.1" stroke-linecap="butt"/>
<line x1="557.35" y1="471.10" x2="682.30" y2="471.10" stroke="#000" stroke-width="1.1" stroke-linecap="butt"/>
<line x1="555.30" y1="471.10" x2="557.90" y2="471.10" stroke="#000" stroke-width="1.1" stroke-linecap="butt"/>
<text transform="translate(554.00 473.75) scale(1.03 1)" font-size="7.4" font-weight="bold" text-anchor="end" fill="#000">0</text>
<line x1="555.30" y1="454.70" x2="557.90" y2="454.70" stroke="#000" stroke-width="1.1" stroke-linecap="butt"/>
<text transform="translate(554.00 457.35) scale(1.03 1)" font-size="7.4" font-weight="bold" text-anchor="end" fill="#000">25</text>
<line x1="555.30" y1="438.30" x2="557.90" y2="438.30" stroke="#000" stroke-width="1.1" stroke-linecap="butt"/>
<text transform="translate(554.00 440.95) scale(1.03 1)" font-size="7.4" font-weight="bold" text-anchor="end" fill="#000">50</text>
<line x1="555.30" y1="421.90" x2="557.90" y2="421.90" stroke="#000" stroke-width="1.1" stroke-linecap="butt"/>
<text transform="translate(554.00 424.55) scale(1.03 1)" font-size="7.4" font-weight="bold" text-anchor="end" fill="#000">75</text>
<line x1="555.30" y1="405.50" x2="557.90" y2="405.50" stroke="#000" stroke-width="1.1" stroke-linecap="butt"/>
<text transform="translate(554.00 408.15) scale(1.03 1)" font-size="7.4" font-weight="bold" text-anchor="end" fill="#000">100</text>
<line x1="555.30" y1="389.10" x2="557.90" y2="389.10" stroke="#000" stroke-width="1.1" stroke-linecap="butt"/>
<text transform="translate(554.00 391.75) scale(1.03 1)" font-size="7.4" font-weight="bold" text-anchor="end" fill="#000">125</text>
<line x1="567.45" y1="471.10" x2="567.45" y2="473.70" stroke="#000" stroke-width="1.1" stroke-linecap="butt"/>
<line x1="586.15" y1="471.10" x2="586.15" y2="473.70" stroke="#000" stroke-width="1.1" stroke-linecap="butt"/>
<line x1="611.15" y1="471.10" x2="611.15" y2="473.70" stroke="#000" stroke-width="1.1" stroke-linecap="butt"/>
<line x1="630.00" y1="471.10" x2="630.00" y2="473.70" stroke="#000" stroke-width="1.1" stroke-linecap="butt"/>
<line x1="654.50" y1="471.10" x2="654.50" y2="473.70" stroke="#000" stroke-width="1.1" stroke-linecap="butt"/>
<line x1="673.00" y1="471.10" x2="673.00" y2="473.70" stroke="#000" stroke-width="1.1" stroke-linecap="butt"/>
<text transform="translate(538.50 425.10) rotate(-90)" font-size="7.6" font-weight="bold" text-anchor="middle" fill="#000">cell number (%)</text>
<text transform="translate(554.40 485.40) scale(1.01 1)" font-size="7.4" font-weight="bold" text-anchor="end" fill="#000">Clor</text>
<rect x="565.85" y="482.40" width="3.20" height="1.40" fill="#000"/>
<rect x="583.15" y="482.62" width="6.00" height="1.35" fill="#000"/>
<rect x="585.48" y="480.30" width="1.35" height="6.00" fill="#000"/>
<rect x="609.55" y="482.40" width="3.20" height="1.40" fill="#000"/>
<rect x="627.00" y="482.62" width="6.00" height="1.35" fill="#000"/>
<rect x="629.33" y="480.30" width="1.35" height="6.00" fill="#000"/>
<rect x="652.90" y="482.40" width="3.20" height="1.40" fill="#000"/>
<rect x="670.00" y="482.62" width="6.00" height="1.35" fill="#000"/>
<rect x="672.33" y="480.30" width="1.35" height="6.00" fill="#000"/>
<text transform="translate(554.40 496.00) scale(1.01 1)" font-size="7.4" font-weight="bold" text-anchor="end" fill="#000">Doc</text>
<rect x="565.85" y="493.00" width="3.20" height="1.40" fill="#000"/>
<rect x="584.55" y="493.00" width="3.20" height="1.40" fill="#000"/>
<rect x="608.15" y="493.22" width="6.00" height="1.35" fill="#000"/>
<rect x="610.48" y="490.90" width="1.35" height="6.00" fill="#000"/>
<rect x="627.00" y="493.22" width="6.00" height="1.35" fill="#000"/>
<rect x="629.33" y="490.90" width="1.35" height="6.00" fill="#000"/>
<rect x="652.90" y="493.00" width="3.20" height="1.40" fill="#000"/>
<rect x="671.40" y="493.00" width="3.20" height="1.40" fill="#000"/>
<text transform="translate(554.40 505.80) scale(1.01 1)" font-size="7.4" font-weight="bold" text-anchor="end" fill="#000">Cab</text>
<rect x="565.85" y="502.80" width="3.20" height="1.40" fill="#000"/>
<rect x="584.55" y="502.80" width="3.20" height="1.40" fill="#000"/>
<rect x="609.55" y="502.80" width="3.20" height="1.40" fill="#000"/>
<rect x="628.40" y="502.80" width="3.20" height="1.40" fill="#000"/>
<rect x="651.50" y="503.02" width="6.00" height="1.35" fill="#000"/>
<rect x="653.83" y="500.70" width="1.35" height="6.00" fill="#000"/>
<rect x="670.00" y="503.02" width="6.00" height="1.35" fill="#000"/>
<rect x="672.33" y="500.70" width="1.35" height="6.00" fill="#000"/>
</svg>
</body></html>
